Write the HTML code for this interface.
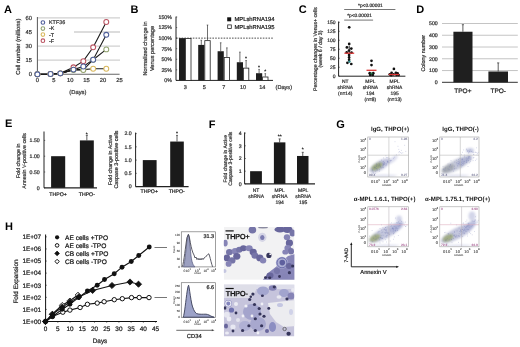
<!DOCTYPE html>
<html><head><meta charset="utf-8"><style>
html,body{margin:0;padding:0;background:#fff;width:520px;height:347px;overflow:hidden}
svg{display:block;will-change:transform;text-rendering:geometricPrecision;font-family:"Liberation Sans",sans-serif}
</style></head><body>
<svg width="520" height="347" viewBox="0 0 520 347">
<defs><filter id="bl" x="-20%" y="-20%" width="140%" height="140%"><feGaussianBlur stdDeviation="1.2"/></filter><filter id="bm" x="-10%" y="-10%" width="120%" height="120%"><feGaussianBlur stdDeviation="0.6"/></filter></defs>
<rect width="520" height="347" fill="#fff"/>
<text x="4.00" y="13.04" font-size="11" font-weight="bold" fill="#000">A</text>
<line x1="38.00" y1="17.90" x2="120.00" y2="17.90" stroke="#d0d0d0" stroke-width="1.3"/>
<line x1="38.00" y1="46.10" x2="120.00" y2="46.10" stroke="#d0d0d0" stroke-width="1.3"/>
<line x1="38.00" y1="60.20" x2="120.00" y2="60.20" stroke="#d0d0d0" stroke-width="1.3"/>
<line x1="74.00" y1="32.00" x2="120.00" y2="32.00" stroke="#d0d0d0" stroke-width="1.3"/>
<line x1="37.40" y1="17.00" x2="37.40" y2="74.30" stroke="#444" stroke-width="0.9"/>
<line x1="37.40" y1="74.30" x2="119.60" y2="74.30" stroke="#666" stroke-width="1.1"/>
<text x="32.00" y="19.98" font-size="5.8" text-anchor="end" fill="#333" stroke="#333" stroke-width="0.22" stroke-linejoin="round">60</text>
<text x="32.00" y="34.08" font-size="5.8" text-anchor="end" fill="#333" stroke="#333" stroke-width="0.22" stroke-linejoin="round">45</text>
<text x="32.00" y="48.18" font-size="5.8" text-anchor="end" fill="#333" stroke="#333" stroke-width="0.22" stroke-linejoin="round">30</text>
<text x="32.00" y="62.28" font-size="5.8" text-anchor="end" fill="#333" stroke="#333" stroke-width="0.22" stroke-linejoin="round">15</text>
<text x="32.00" y="76.38" font-size="5.8" text-anchor="end" fill="#333" stroke="#333" stroke-width="0.22" stroke-linejoin="round">0</text>
<text x="37.40" y="82.48" font-size="5.8" text-anchor="middle" fill="#333" stroke="#333" stroke-width="0.22" stroke-linejoin="round">0</text>
<text x="53.80" y="82.48" font-size="5.8" text-anchor="middle" fill="#333" stroke="#333" stroke-width="0.22" stroke-linejoin="round">5</text>
<text x="70.20" y="82.48" font-size="5.8" text-anchor="middle" fill="#333" stroke="#333" stroke-width="0.22" stroke-linejoin="round">10</text>
<text x="86.60" y="82.48" font-size="5.8" text-anchor="middle" fill="#333" stroke="#333" stroke-width="0.22" stroke-linejoin="round">15</text>
<text x="103.00" y="82.48" font-size="5.8" text-anchor="middle" fill="#333" stroke="#333" stroke-width="0.22" stroke-linejoin="round">20</text>
<text x="119.40" y="82.48" font-size="5.8" text-anchor="middle" fill="#333" stroke="#333" stroke-width="0.22" stroke-linejoin="round">25</text>
<text x="77.90" y="93.68" font-size="5.8" text-anchor="middle" fill="#333" stroke="#333" stroke-width="0.22" stroke-linejoin="round">(Days)</text>
<text x="17.90" y="48.78" font-size="5.8" text-anchor="middle" fill="#333" stroke="#333" stroke-width="0.22" stroke-linejoin="round" transform="rotate(-90 17.90 46.70)">Cell number (millions)</text>
<path d="M37.40,74.30 L50.52,74.02 L60.36,73.36 L73.48,67.34 L83.32,61.14 L93.16,47.32 L106.28,22.04" fill="none" stroke="#1a1a1a" stroke-width="1.1"/>
<path d="M37.40,74.30 L50.52,74.02 L60.36,73.36 L73.48,69.60 L83.32,69.60 L93.16,68.75 L106.28,68.75" fill="none" stroke="#1a1a1a" stroke-width="1.1"/>
<path d="M37.40,74.30 L50.52,74.02 L60.36,73.36 L73.48,70.07 L83.32,70.07 L93.16,59.73 L106.28,49.39" fill="none" stroke="#1a1a1a" stroke-width="1.1"/>
<path d="M37.40,74.30 L50.52,74.02 L60.36,73.36 L73.48,69.60 L83.32,66.50 L93.16,59.73 L106.28,34.82" fill="none" stroke="#1a1a1a" stroke-width="1.1"/>
<circle cx="37.40" cy="74.30" r="2.45" fill="#fff" stroke="#bb5563" stroke-width="1.05"/>
<circle cx="50.52" cy="74.02" r="2.45" fill="#fff" stroke="#bb5563" stroke-width="1.05"/>
<circle cx="60.36" cy="73.36" r="2.45" fill="#fff" stroke="#bb5563" stroke-width="1.05"/>
<circle cx="73.48" cy="67.34" r="2.45" fill="#fff" stroke="#bb5563" stroke-width="1.05"/>
<circle cx="83.32" cy="61.14" r="2.45" fill="#fff" stroke="#bb5563" stroke-width="1.05"/>
<circle cx="93.16" cy="47.32" r="2.45" fill="#fff" stroke="#bb5563" stroke-width="1.05"/>
<circle cx="106.28" cy="22.04" r="2.45" fill="#fff" stroke="#bb5563" stroke-width="1.05"/>
<circle cx="37.40" cy="74.30" r="2.45" fill="#fff" stroke="#d9b85e" stroke-width="1.05"/>
<circle cx="50.52" cy="74.02" r="2.45" fill="#fff" stroke="#d9b85e" stroke-width="1.05"/>
<circle cx="60.36" cy="73.36" r="2.45" fill="#fff" stroke="#d9b85e" stroke-width="1.05"/>
<circle cx="73.48" cy="69.60" r="2.45" fill="#fff" stroke="#d9b85e" stroke-width="1.05"/>
<circle cx="83.32" cy="69.60" r="2.45" fill="#fff" stroke="#d9b85e" stroke-width="1.05"/>
<circle cx="93.16" cy="68.75" r="2.45" fill="#fff" stroke="#d9b85e" stroke-width="1.05"/>
<circle cx="106.28" cy="68.75" r="2.45" fill="#fff" stroke="#d9b85e" stroke-width="1.05"/>
<circle cx="37.40" cy="74.30" r="2.45" fill="#fff" stroke="#93a472" stroke-width="1.05"/>
<circle cx="50.52" cy="74.02" r="2.45" fill="#fff" stroke="#93a472" stroke-width="1.05"/>
<circle cx="60.36" cy="73.36" r="2.45" fill="#fff" stroke="#93a472" stroke-width="1.05"/>
<circle cx="73.48" cy="70.07" r="2.45" fill="#fff" stroke="#93a472" stroke-width="1.05"/>
<circle cx="83.32" cy="70.07" r="2.45" fill="#fff" stroke="#93a472" stroke-width="1.05"/>
<circle cx="93.16" cy="59.73" r="2.45" fill="#fff" stroke="#93a472" stroke-width="1.05"/>
<circle cx="106.28" cy="49.39" r="2.45" fill="#fff" stroke="#93a472" stroke-width="1.05"/>
<circle cx="37.40" cy="74.30" r="2.45" fill="#fff" stroke="#4f5f9a" stroke-width="1.05"/>
<circle cx="50.52" cy="74.02" r="2.45" fill="#fff" stroke="#4f5f9a" stroke-width="1.05"/>
<circle cx="60.36" cy="73.36" r="2.45" fill="#fff" stroke="#4f5f9a" stroke-width="1.05"/>
<circle cx="73.48" cy="69.60" r="2.45" fill="#fff" stroke="#4f5f9a" stroke-width="1.05"/>
<circle cx="83.32" cy="66.50" r="2.45" fill="#fff" stroke="#4f5f9a" stroke-width="1.05"/>
<circle cx="93.16" cy="59.73" r="2.45" fill="#fff" stroke="#4f5f9a" stroke-width="1.05"/>
<circle cx="106.28" cy="34.82" r="2.45" fill="#fff" stroke="#4f5f9a" stroke-width="1.05"/>
<circle cx="42.90" cy="22.50" r="1.80" fill="#fff" stroke="#4f5f9a" stroke-width="1.1"/>
<text x="49.00" y="24.43" font-size="5.4" fill="#333" stroke="#333" stroke-width="0.22" stroke-linejoin="round">KTF36</text>
<circle cx="42.90" cy="28.55" r="1.80" fill="#fff" stroke="#93a472" stroke-width="1.1"/>
<text x="49.00" y="30.48" font-size="5.4" fill="#333" stroke="#333" stroke-width="0.22" stroke-linejoin="round">-K</text>
<circle cx="42.90" cy="34.60" r="1.80" fill="#fff" stroke="#d9b85e" stroke-width="1.1"/>
<text x="49.00" y="36.53" font-size="5.4" fill="#333" stroke="#333" stroke-width="0.22" stroke-linejoin="round">-T</text>
<circle cx="42.90" cy="40.65" r="1.80" fill="#fff" stroke="#bb5563" stroke-width="1.1"/>
<text x="49.00" y="42.58" font-size="5.4" fill="#333" stroke="#333" stroke-width="0.22" stroke-linejoin="round">-F</text>
<text x="130.50" y="13.04" font-size="11" font-weight="bold" fill="#000">B</text>
<line x1="176.00" y1="16.60" x2="176.00" y2="80.40" stroke="#222" stroke-width="1"/>
<line x1="176.00" y1="80.40" x2="273.00" y2="80.40" stroke="#222" stroke-width="1"/>
<text x="172.00" y="18.90" font-size="5.3" text-anchor="end" fill="#333" stroke="#333" stroke-width="0.22" stroke-linejoin="round">150%</text>
<line x1="176.00" y1="17.00" x2="177.20" y2="17.00" stroke="#222" stroke-width="0.6"/>
<text x="172.00" y="29.46" font-size="5.3" text-anchor="end" fill="#333" stroke="#333" stroke-width="0.22" stroke-linejoin="round">125%</text>
<line x1="176.00" y1="27.57" x2="177.20" y2="27.57" stroke="#222" stroke-width="0.6"/>
<text x="172.00" y="40.03" font-size="5.3" text-anchor="end" fill="#333" stroke="#333" stroke-width="0.22" stroke-linejoin="round">100%</text>
<line x1="176.00" y1="38.13" x2="177.20" y2="38.13" stroke="#222" stroke-width="0.6"/>
<text x="172.00" y="50.60" font-size="5.3" text-anchor="end" fill="#333" stroke="#333" stroke-width="0.22" stroke-linejoin="round">75%</text>
<line x1="176.00" y1="48.70" x2="177.20" y2="48.70" stroke="#222" stroke-width="0.6"/>
<text x="172.00" y="61.16" font-size="5.3" text-anchor="end" fill="#333" stroke="#333" stroke-width="0.22" stroke-linejoin="round">50%</text>
<line x1="176.00" y1="59.27" x2="177.20" y2="59.27" stroke="#222" stroke-width="0.6"/>
<text x="172.00" y="71.73" font-size="5.3" text-anchor="end" fill="#333" stroke="#333" stroke-width="0.22" stroke-linejoin="round">25%</text>
<line x1="176.00" y1="69.83" x2="177.20" y2="69.83" stroke="#222" stroke-width="0.6"/>
<text x="172.00" y="82.30" font-size="5.3" text-anchor="end" fill="#333" stroke="#333" stroke-width="0.22" stroke-linejoin="round">0%</text>
<line x1="176.00" y1="80.40" x2="177.20" y2="80.40" stroke="#222" stroke-width="0.6"/>
<line x1="176.00" y1="38.13" x2="273.00" y2="38.13" stroke="#222" stroke-width="0.8" stroke-dasharray="1.6,1.2"/>
<rect x="179.00" y="38.13" width="6.20" height="42.27" fill="#1e1e1e" stroke="none" stroke-width="1"/>
<rect x="185.60" y="38.53" width="5.40" height="41.87" fill="#fff" stroke="#222" stroke-width="0.8"/>
<text x="185.20" y="88.67" font-size="5.5" text-anchor="middle" fill="#333" stroke="#333" stroke-width="0.22" stroke-linejoin="round">3</text>
<line x1="201.30" y1="44.90" x2="201.30" y2="40.25" stroke="#333" stroke-width="0.7"/>
<line x1="200.50" y1="40.25" x2="202.10" y2="40.25" stroke="#333" stroke-width="0.6"/>
<line x1="207.50" y1="40.25" x2="207.50" y2="25.03" stroke="#333" stroke-width="0.7"/>
<line x1="206.70" y1="25.03" x2="208.30" y2="25.03" stroke="#333" stroke-width="0.6"/>
<rect x="198.20" y="44.90" width="6.20" height="35.50" fill="#1e1e1e" stroke="none" stroke-width="1"/>
<rect x="204.80" y="40.65" width="5.40" height="39.75" fill="#fff" stroke="#222" stroke-width="0.8"/>
<text x="204.40" y="88.67" font-size="5.5" text-anchor="middle" fill="#333" stroke="#333" stroke-width="0.22" stroke-linejoin="round">5</text>
<line x1="220.70" y1="51.24" x2="220.70" y2="42.78" stroke="#333" stroke-width="0.7"/>
<line x1="219.90" y1="42.78" x2="221.50" y2="42.78" stroke="#333" stroke-width="0.6"/>
<line x1="226.90" y1="57.15" x2="226.90" y2="47.85" stroke="#333" stroke-width="0.7"/>
<line x1="226.10" y1="47.85" x2="227.70" y2="47.85" stroke="#333" stroke-width="0.6"/>
<rect x="217.60" y="51.24" width="6.20" height="29.16" fill="#1e1e1e" stroke="none" stroke-width="1"/>
<rect x="224.20" y="57.55" width="5.40" height="22.85" fill="#fff" stroke="#222" stroke-width="0.8"/>
<text x="223.80" y="88.67" font-size="5.5" text-anchor="middle" fill="#333" stroke="#333" stroke-width="0.22" stroke-linejoin="round">7</text>
<line x1="239.90" y1="62.23" x2="239.90" y2="52.08" stroke="#333" stroke-width="0.7"/>
<line x1="239.10" y1="52.08" x2="240.70" y2="52.08" stroke="#333" stroke-width="0.6"/>
<line x1="246.10" y1="67.72" x2="246.10" y2="60.53" stroke="#333" stroke-width="0.7"/>
<line x1="245.30" y1="60.53" x2="246.90" y2="60.53" stroke="#333" stroke-width="0.6"/>
<rect x="236.80" y="62.23" width="6.20" height="18.17" fill="#1e1e1e" stroke="none" stroke-width="1"/>
<rect x="243.40" y="68.12" width="5.40" height="12.28" fill="#fff" stroke="#222" stroke-width="0.8"/>
<text x="243.00" y="88.67" font-size="5.5" text-anchor="middle" fill="#333" stroke="#333" stroke-width="0.22" stroke-linejoin="round">10</text>
<line x1="259.10" y1="73.21" x2="259.10" y2="69.41" stroke="#333" stroke-width="0.7"/>
<line x1="258.30" y1="69.41" x2="259.90" y2="69.41" stroke="#333" stroke-width="0.6"/>
<line x1="265.30" y1="76.60" x2="265.30" y2="73.64" stroke="#333" stroke-width="0.7"/>
<line x1="264.50" y1="73.64" x2="266.10" y2="73.64" stroke="#333" stroke-width="0.6"/>
<rect x="256.00" y="73.21" width="6.20" height="7.19" fill="#1e1e1e" stroke="none" stroke-width="1"/>
<rect x="262.60" y="77.00" width="5.40" height="3.40" fill="#fff" stroke="#222" stroke-width="0.8"/>
<text x="262.20" y="88.67" font-size="5.5" text-anchor="middle" fill="#333" stroke="#333" stroke-width="0.22" stroke-linejoin="round">14</text>
<text x="246.10" y="60.12" font-size="5" text-anchor="middle" fill="#222" stroke="#222" stroke-width="0.22" stroke-linejoin="round">*</text>
<text x="259.10" y="69.00" font-size="5" text-anchor="middle" fill="#222" stroke="#222" stroke-width="0.22" stroke-linejoin="round">*</text>
<text x="265.30" y="73.23" font-size="5" text-anchor="middle" fill="#222" stroke="#222" stroke-width="0.22" stroke-linejoin="round">*</text>
<text x="283.80" y="88.70" font-size="5.6" text-anchor="middle" fill="#333" stroke="#333" stroke-width="0.22" stroke-linejoin="round">(Days)</text>
<text x="144.80" y="50.50" font-size="5.6" text-anchor="middle" fill="#333" stroke="#333" stroke-width="0.22" stroke-linejoin="round" transform="rotate(-90 144.80 48.50)">Normalized change in</text>
<text x="151.60" y="50.50" font-size="5.6" text-anchor="middle" fill="#333" stroke="#333" stroke-width="0.22" stroke-linejoin="round" transform="rotate(-90 151.60 48.50)">Venus percentage</text>
<rect x="227.20" y="17.30" width="4.00" height="4.00" fill="#111" stroke="none" stroke-width="1"/>
<text x="234.50" y="21.48" font-size="5.8" fill="#222" stroke="#222" stroke-width="0.22" stroke-linejoin="round">MPLshRNA194</text>
<rect x="227.70" y="24.90" width="3.60" height="3.60" fill="#fff" stroke="#222" stroke-width="0.8"/>
<text x="234.50" y="28.78" font-size="5.8" fill="#222" stroke="#222" stroke-width="0.22" stroke-linejoin="round">MPLshRNA195</text>
<text x="298.80" y="13.04" font-size="11" font-weight="bold" fill="#000">C</text>
<line x1="338.60" y1="21.50" x2="338.60" y2="76.20" stroke="#222" stroke-width="1"/>
<line x1="338.60" y1="76.20" x2="405.40" y2="76.20" stroke="#222" stroke-width="1"/>
<text x="335.60" y="24.09" font-size="5.0" text-anchor="end" fill="#333" stroke="#333" stroke-width="0.22" stroke-linejoin="round">150</text>
<line x1="338.60" y1="22.30" x2="339.80" y2="22.30" stroke="#222" stroke-width="0.6"/>
<text x="335.60" y="33.08" font-size="5.0" text-anchor="end" fill="#333" stroke="#333" stroke-width="0.22" stroke-linejoin="round">125</text>
<line x1="338.60" y1="31.29" x2="339.80" y2="31.29" stroke="#222" stroke-width="0.6"/>
<text x="335.60" y="42.06" font-size="5.0" text-anchor="end" fill="#333" stroke="#333" stroke-width="0.22" stroke-linejoin="round">100</text>
<line x1="338.60" y1="40.27" x2="339.80" y2="40.27" stroke="#222" stroke-width="0.6"/>
<text x="335.60" y="51.04" font-size="5.0" text-anchor="end" fill="#333" stroke="#333" stroke-width="0.22" stroke-linejoin="round">75</text>
<line x1="338.60" y1="49.25" x2="339.80" y2="49.25" stroke="#222" stroke-width="0.6"/>
<text x="335.60" y="60.02" font-size="5.0" text-anchor="end" fill="#333" stroke="#333" stroke-width="0.22" stroke-linejoin="round">50</text>
<line x1="338.60" y1="58.23" x2="339.80" y2="58.23" stroke="#222" stroke-width="0.6"/>
<text x="335.60" y="69.01" font-size="5.0" text-anchor="end" fill="#333" stroke="#333" stroke-width="0.22" stroke-linejoin="round">25</text>
<line x1="338.60" y1="67.22" x2="339.80" y2="67.22" stroke="#222" stroke-width="0.6"/>
<text x="335.60" y="77.99" font-size="5.0" text-anchor="end" fill="#333" stroke="#333" stroke-width="0.22" stroke-linejoin="round">0</text>
<line x1="338.60" y1="76.20" x2="339.80" y2="76.20" stroke="#222" stroke-width="0.6"/>
<line x1="344.20" y1="9.50" x2="395.40" y2="9.50" stroke="#666" stroke-width="0.9"/>
<text x="370.40" y="7.12" font-size="4.8" text-anchor="middle" fill="#333" stroke="#333" stroke-width="0.22" stroke-linejoin="round">*p&lt;0.00001</text>
<line x1="344.20" y1="20.10" x2="373.10" y2="20.10" stroke="#666" stroke-width="0.9"/>
<text x="359.60" y="17.42" font-size="4.8" text-anchor="middle" fill="#333" stroke="#333" stroke-width="0.22" stroke-linejoin="round">*p&lt;0.00001</text>
<line x1="349.20" y1="45.66" x2="349.20" y2="62.55" stroke="#111" stroke-width="0.9"/>
<circle cx="349.20" cy="27.30" r="1.35" fill="#111" stroke="none" stroke-width="1"/>
<circle cx="349.20" cy="43.90" r="1.35" fill="#111" stroke="none" stroke-width="1"/>
<circle cx="346.90" cy="47.40" r="1.35" fill="#111" stroke="none" stroke-width="1"/>
<circle cx="351.30" cy="48.60" r="1.35" fill="#111" stroke="none" stroke-width="1"/>
<circle cx="349.00" cy="50.60" r="1.35" fill="#111" stroke="none" stroke-width="1"/>
<circle cx="346.70" cy="52.40" r="1.35" fill="#111" stroke="none" stroke-width="1"/>
<circle cx="351.50" cy="52.60" r="1.35" fill="#111" stroke="none" stroke-width="1"/>
<circle cx="349.10" cy="55.00" r="1.35" fill="#111" stroke="none" stroke-width="1"/>
<circle cx="349.10" cy="57.40" r="1.35" fill="#111" stroke="none" stroke-width="1"/>
<circle cx="349.10" cy="59.80" r="1.35" fill="#111" stroke="none" stroke-width="1"/>
<circle cx="347.40" cy="62.80" r="1.35" fill="#111" stroke="none" stroke-width="1"/>
<circle cx="351.30" cy="64.00" r="1.35" fill="#111" stroke="none" stroke-width="1"/>
<circle cx="349.50" cy="61.60" r="1.20" fill="#2a8a8a" stroke="none" stroke-width="1"/>
<line x1="344.40" y1="53.20" x2="354.20" y2="53.20" stroke="#dd3535" stroke-width="1.3"/>
<circle cx="371.50" cy="60.80" r="1.35" fill="#111" stroke="none" stroke-width="1"/>
<circle cx="371.50" cy="65.10" r="1.35" fill="#111" stroke="none" stroke-width="1"/>
<circle cx="369.70" cy="73.20" r="1.35" fill="#111" stroke="none" stroke-width="1"/>
<circle cx="373.30" cy="73.20" r="1.35" fill="#111" stroke="none" stroke-width="1"/>
<circle cx="371.50" cy="74.20" r="1.35" fill="#111" stroke="none" stroke-width="1"/>
<circle cx="370.20" cy="75.00" r="1.35" fill="#111" stroke="none" stroke-width="1"/>
<circle cx="372.80" cy="75.00" r="1.35" fill="#111" stroke="none" stroke-width="1"/>
<circle cx="371.50" cy="73.60" r="1.10" fill="#2a7a4a" stroke="none" stroke-width="1"/>
<line x1="366.50" y1="70.30" x2="376.50" y2="70.30" stroke="#dd3535" stroke-width="1.3"/>
<circle cx="393.90" cy="68.90" r="1.35" fill="#111" stroke="none" stroke-width="1"/>
<circle cx="391.60" cy="72.80" r="1.35" fill="#111" stroke="none" stroke-width="1"/>
<circle cx="395.90" cy="72.80" r="1.35" fill="#111" stroke="none" stroke-width="1"/>
<circle cx="397.60" cy="73.30" r="1.35" fill="#111" stroke="none" stroke-width="1"/>
<circle cx="389.80" cy="74.30" r="1.35" fill="#111" stroke="none" stroke-width="1"/>
<circle cx="393.60" cy="74.30" r="1.35" fill="#111" stroke="none" stroke-width="1"/>
<circle cx="396.60" cy="75.00" r="1.35" fill="#111" stroke="none" stroke-width="1"/>
<circle cx="391.20" cy="75.20" r="1.35" fill="#111" stroke="none" stroke-width="1"/>
<circle cx="398.60" cy="75.00" r="1.35" fill="#111" stroke="none" stroke-width="1"/>
<line x1="388.70" y1="74.50" x2="399.20" y2="74.50" stroke="#dd3535" stroke-width="1.3"/>
<text x="345.20" y="82.95" font-size="4.9" text-anchor="middle" fill="#333" stroke="#333" stroke-width="0.22" stroke-linejoin="round">NT</text>
<text x="345.20" y="89.05" font-size="4.9" text-anchor="middle" fill="#333" stroke="#333" stroke-width="0.22" stroke-linejoin="round">shRNA</text>
<text x="345.20" y="95.15" font-size="4.9" text-anchor="middle" fill="#333" stroke="#333" stroke-width="0.22" stroke-linejoin="round">(n=14)</text>
<text x="370.40" y="82.95" font-size="4.9" text-anchor="middle" fill="#333" stroke="#333" stroke-width="0.22" stroke-linejoin="round">MPL</text>
<text x="370.40" y="89.05" font-size="4.9" text-anchor="middle" fill="#333" stroke="#333" stroke-width="0.22" stroke-linejoin="round">shRNA</text>
<text x="370.40" y="95.15" font-size="4.9" text-anchor="middle" fill="#333" stroke="#333" stroke-width="0.22" stroke-linejoin="round">194</text>
<text x="370.40" y="101.25" font-size="4.9" text-anchor="middle" fill="#333" stroke="#333" stroke-width="0.22" stroke-linejoin="round">(n=8)</text>
<text x="394.60" y="82.95" font-size="4.9" text-anchor="middle" fill="#333" stroke="#333" stroke-width="0.22" stroke-linejoin="round">MPL</text>
<text x="394.60" y="89.05" font-size="4.9" text-anchor="middle" fill="#333" stroke="#333" stroke-width="0.22" stroke-linejoin="round">shRNA</text>
<text x="394.60" y="95.15" font-size="4.9" text-anchor="middle" fill="#333" stroke="#333" stroke-width="0.22" stroke-linejoin="round">195</text>
<text x="394.60" y="101.25" font-size="4.9" text-anchor="middle" fill="#333" stroke="#333" stroke-width="0.22" stroke-linejoin="round">(n=13)</text>
<text x="315.00" y="50.86" font-size="5.2" text-anchor="middle" fill="#333" stroke="#333" stroke-width="0.22" stroke-linejoin="round" transform="rotate(-90 315.00 49.00)">Percentage changes in Venus+ cells</text>
<text x="320.60" y="50.86" font-size="5.2" text-anchor="middle" fill="#333" stroke="#333" stroke-width="0.22" stroke-linejoin="round" transform="rotate(-90 320.60 49.00)">(week 6 / day 3)</text>
<text x="416.30" y="13.04" font-size="11" font-weight="bold" fill="#000">D</text>
<line x1="442.00" y1="23.50" x2="517.80" y2="23.50" stroke="#bdbdbd" stroke-width="0.9"/>
<line x1="442.00" y1="35.26" x2="517.80" y2="35.26" stroke="#bdbdbd" stroke-width="0.9"/>
<line x1="442.00" y1="47.02" x2="517.80" y2="47.02" stroke="#bdbdbd" stroke-width="0.9"/>
<line x1="442.00" y1="58.78" x2="517.80" y2="58.78" stroke="#bdbdbd" stroke-width="0.9"/>
<line x1="442.00" y1="70.54" x2="517.80" y2="70.54" stroke="#bdbdbd" stroke-width="0.9"/>
<line x1="442.00" y1="82.30" x2="517.80" y2="82.30" stroke="#333" stroke-width="1"/>
<text x="437.70" y="25.36" font-size="5.2" text-anchor="end" fill="#333" stroke="#333" stroke-width="0.22" stroke-linejoin="round">500</text>
<text x="437.70" y="37.12" font-size="5.2" text-anchor="end" fill="#333" stroke="#333" stroke-width="0.22" stroke-linejoin="round">400</text>
<text x="437.70" y="48.88" font-size="5.2" text-anchor="end" fill="#333" stroke="#333" stroke-width="0.22" stroke-linejoin="round">300</text>
<text x="437.70" y="60.64" font-size="5.2" text-anchor="end" fill="#333" stroke="#333" stroke-width="0.22" stroke-linejoin="round">200</text>
<text x="437.70" y="72.40" font-size="5.2" text-anchor="end" fill="#333" stroke="#333" stroke-width="0.22" stroke-linejoin="round">100</text>
<text x="437.70" y="84.16" font-size="5.2" text-anchor="end" fill="#333" stroke="#333" stroke-width="0.22" stroke-linejoin="round">0</text>
<line x1="462.90" y1="31.73" x2="462.90" y2="24.68" stroke="#333" stroke-width="0.8"/>
<line x1="461.80" y1="24.68" x2="464.00" y2="24.68" stroke="#333" stroke-width="0.7"/>
<rect x="453.40" y="31.73" width="19.10" height="50.57" fill="#1f1f1f" stroke="none" stroke-width="1"/>
<line x1="498.20" y1="71.48" x2="498.20" y2="62.90" stroke="#333" stroke-width="0.8"/>
<line x1="497.10" y1="62.90" x2="499.30" y2="62.90" stroke="#333" stroke-width="0.7"/>
<rect x="488.40" y="71.48" width="19.60" height="10.82" fill="#1f1f1f" stroke="none" stroke-width="1"/>
<text x="462.90" y="92.53" font-size="6.5" text-anchor="middle" fill="#222" stroke="#222" stroke-width="0.22" stroke-linejoin="round">TPO+</text>
<text x="498.20" y="92.53" font-size="6.5" text-anchor="middle" fill="#222" stroke="#222" stroke-width="0.22" stroke-linejoin="round">TPO-</text>
<text x="422.60" y="55.23" font-size="5.4" text-anchor="middle" fill="#333" stroke="#333" stroke-width="0.22" stroke-linejoin="round" transform="rotate(-90 422.60 53.30)">Colony number</text>
<text x="5.00" y="127.24" font-size="11" font-weight="bold" fill="#000">E</text>
<line x1="44.00" y1="131.50" x2="44.00" y2="187.80" stroke="#222" stroke-width="1"/>
<line x1="44.00" y1="187.80" x2="97.00" y2="187.80" stroke="#222" stroke-width="1.3"/>
<text x="39.70" y="142.26" font-size="5.2" text-anchor="end" fill="#333" stroke="#333" stroke-width="0.22" stroke-linejoin="round">1.50</text>
<line x1="44.00" y1="140.40" x2="45.20" y2="140.40" stroke="#222" stroke-width="0.6"/>
<text x="39.70" y="158.06" font-size="5.2" text-anchor="end" fill="#333" stroke="#333" stroke-width="0.22" stroke-linejoin="round">1.00</text>
<line x1="44.00" y1="156.20" x2="45.20" y2="156.20" stroke="#222" stroke-width="0.6"/>
<text x="39.70" y="173.86" font-size="5.2" text-anchor="end" fill="#333" stroke="#333" stroke-width="0.22" stroke-linejoin="round">0.50</text>
<line x1="44.00" y1="172.00" x2="45.20" y2="172.00" stroke="#222" stroke-width="0.6"/>
<text x="39.70" y="189.66" font-size="5.2" text-anchor="end" fill="#333" stroke="#333" stroke-width="0.22" stroke-linejoin="round">0</text>
<line x1="44.00" y1="187.80" x2="45.20" y2="187.80" stroke="#222" stroke-width="0.6"/>
<rect x="51.10" y="156.20" width="14.10" height="31.60" fill="#1a1a1a" stroke="none" stroke-width="1"/>
<line x1="86.85" y1="140.40" x2="86.85" y2="135.40" stroke="#333" stroke-width="0.8"/>
<line x1="85.80" y1="135.40" x2="87.90" y2="135.40" stroke="#333" stroke-width="0.7"/>
<rect x="79.90" y="140.40" width="13.90" height="47.40" fill="#1a1a1a" stroke="none" stroke-width="1"/>
<text x="86.85" y="135.99" font-size="5" text-anchor="middle" fill="#222" stroke="#222" stroke-width="0.22" stroke-linejoin="round">*</text>
<text x="58.10" y="196.16" font-size="5.2" text-anchor="middle" fill="#222" stroke="#222" stroke-width="0.22" stroke-linejoin="round">THPO+</text>
<text x="86.80" y="196.16" font-size="5.2" text-anchor="middle" fill="#222" stroke="#222" stroke-width="0.22" stroke-linejoin="round">THPO-</text>
<text x="18.30" y="162.70" font-size="5.3" text-anchor="middle" fill="#333" stroke="#333" stroke-width="0.22" stroke-linejoin="round" transform="rotate(-90 18.30 160.80)">Fold change in</text>
<text x="24.00" y="162.70" font-size="5.3" text-anchor="middle" fill="#333" stroke="#333" stroke-width="0.22" stroke-linejoin="round" transform="rotate(-90 24.00 160.80)">Annexin V-positive cells</text>
<line x1="135.60" y1="132.60" x2="135.60" y2="186.60" stroke="#222" stroke-width="1"/>
<line x1="135.60" y1="186.60" x2="188.60" y2="186.60" stroke="#222" stroke-width="1.3"/>
<text x="131.70" y="135.46" font-size="5.2" text-anchor="end" fill="#333" stroke="#333" stroke-width="0.22" stroke-linejoin="round">2.0</text>
<line x1="135.60" y1="133.60" x2="136.80" y2="133.60" stroke="#222" stroke-width="0.6"/>
<text x="131.70" y="148.71" font-size="5.2" text-anchor="end" fill="#333" stroke="#333" stroke-width="0.22" stroke-linejoin="round">1.5</text>
<line x1="135.60" y1="146.85" x2="136.80" y2="146.85" stroke="#222" stroke-width="0.6"/>
<text x="131.70" y="161.96" font-size="5.2" text-anchor="end" fill="#333" stroke="#333" stroke-width="0.22" stroke-linejoin="round">1.0</text>
<line x1="135.60" y1="160.10" x2="136.80" y2="160.10" stroke="#222" stroke-width="0.6"/>
<text x="131.70" y="175.21" font-size="5.2" text-anchor="end" fill="#333" stroke="#333" stroke-width="0.22" stroke-linejoin="round">0.5</text>
<line x1="135.60" y1="173.35" x2="136.80" y2="173.35" stroke="#222" stroke-width="0.6"/>
<text x="131.70" y="188.46" font-size="5.2" text-anchor="end" fill="#333" stroke="#333" stroke-width="0.22" stroke-linejoin="round">0</text>
<line x1="135.60" y1="186.60" x2="136.80" y2="186.60" stroke="#222" stroke-width="0.6"/>
<rect x="142.80" y="160.10" width="13.80" height="26.50" fill="#1a1a1a" stroke="none" stroke-width="1"/>
<line x1="177.00" y1="141.55" x2="177.00" y2="135.40" stroke="#333" stroke-width="0.8"/>
<line x1="176.00" y1="135.40" x2="178.00" y2="135.40" stroke="#333" stroke-width="0.7"/>
<rect x="170.20" y="141.55" width="13.60" height="45.05" fill="#1a1a1a" stroke="none" stroke-width="1"/>
<text x="177.00" y="134.99" font-size="5" text-anchor="middle" fill="#222" stroke="#222" stroke-width="0.22" stroke-linejoin="round">*</text>
<text x="149.20" y="193.36" font-size="5.2" text-anchor="middle" fill="#222" stroke="#222" stroke-width="0.22" stroke-linejoin="round">THPO+</text>
<text x="176.70" y="193.36" font-size="5.2" text-anchor="middle" fill="#222" stroke="#222" stroke-width="0.22" stroke-linejoin="round">THPO-</text>
<text x="110.60" y="161.90" font-size="5.3" text-anchor="middle" fill="#333" stroke="#333" stroke-width="0.22" stroke-linejoin="round" transform="rotate(-90 110.60 160.00)">Fold change in Active</text>
<text x="116.20" y="161.43" font-size="5.4" text-anchor="middle" fill="#333" stroke="#333" stroke-width="0.22" stroke-linejoin="round" transform="rotate(-90 116.20 159.50)">Caspase 3-positive cells</text>
<text x="208.80" y="128.24" font-size="11" font-weight="bold" fill="#000">F</text>
<line x1="244.60" y1="132.40" x2="244.60" y2="183.90" stroke="#222" stroke-width="1"/>
<line x1="244.60" y1="183.90" x2="315.00" y2="183.90" stroke="#222" stroke-width="1.3"/>
<text x="241.60" y="134.96" font-size="5.2" text-anchor="end" fill="#333" stroke="#333" stroke-width="0.22" stroke-linejoin="round">4</text>
<line x1="244.60" y1="133.10" x2="245.80" y2="133.10" stroke="#222" stroke-width="0.6"/>
<text x="241.60" y="147.66" font-size="5.2" text-anchor="end" fill="#333" stroke="#333" stroke-width="0.22" stroke-linejoin="round">3</text>
<line x1="244.60" y1="145.80" x2="245.80" y2="145.80" stroke="#222" stroke-width="0.6"/>
<text x="241.60" y="160.36" font-size="5.2" text-anchor="end" fill="#333" stroke="#333" stroke-width="0.22" stroke-linejoin="round">2</text>
<line x1="244.60" y1="158.50" x2="245.80" y2="158.50" stroke="#222" stroke-width="0.6"/>
<text x="241.60" y="173.06" font-size="5.2" text-anchor="end" fill="#333" stroke="#333" stroke-width="0.22" stroke-linejoin="round">1</text>
<line x1="244.60" y1="171.20" x2="245.80" y2="171.20" stroke="#222" stroke-width="0.6"/>
<text x="241.60" y="185.76" font-size="5.2" text-anchor="end" fill="#333" stroke="#333" stroke-width="0.22" stroke-linejoin="round">0</text>
<line x1="244.60" y1="183.90" x2="245.80" y2="183.90" stroke="#222" stroke-width="0.6"/>
<rect x="250.10" y="171.20" width="11.80" height="12.70" fill="#1a1a1a" stroke="none" stroke-width="1"/>
<line x1="279.65" y1="142.37" x2="279.65" y2="138.90" stroke="#333" stroke-width="0.8"/>
<line x1="278.60" y1="138.90" x2="280.70" y2="138.90" stroke="#333" stroke-width="0.7"/>
<rect x="273.90" y="142.37" width="11.50" height="41.53" fill="#1a1a1a" stroke="none" stroke-width="1"/>
<line x1="302.75" y1="155.96" x2="302.75" y2="152.30" stroke="#333" stroke-width="0.8"/>
<line x1="301.70" y1="152.30" x2="303.80" y2="152.30" stroke="#333" stroke-width="0.7"/>
<rect x="297.00" y="155.96" width="11.50" height="27.94" fill="#1a1a1a" stroke="none" stroke-width="1"/>
<text x="279.65" y="137.99" font-size="5" text-anchor="middle" fill="#222" stroke="#222" stroke-width="0.22" stroke-linejoin="round">**</text>
<text x="302.75" y="151.19" font-size="5" text-anchor="middle" fill="#222" stroke="#222" stroke-width="0.22" stroke-linejoin="round">*</text>
<text x="256.10" y="191.79" font-size="5.0" text-anchor="middle" fill="#333" stroke="#333" stroke-width="0.22" stroke-linejoin="round">NT</text>
<text x="256.10" y="197.99" font-size="5.0" text-anchor="middle" fill="#333" stroke="#333" stroke-width="0.22" stroke-linejoin="round">shRNA</text>
<text x="279.70" y="191.79" font-size="5.0" text-anchor="middle" fill="#333" stroke="#333" stroke-width="0.22" stroke-linejoin="round">MPL</text>
<text x="279.70" y="197.99" font-size="5.0" text-anchor="middle" fill="#333" stroke="#333" stroke-width="0.22" stroke-linejoin="round">shRNA</text>
<text x="279.70" y="204.19" font-size="5.0" text-anchor="middle" fill="#333" stroke="#333" stroke-width="0.22" stroke-linejoin="round">194</text>
<text x="303.20" y="191.79" font-size="5.0" text-anchor="middle" fill="#333" stroke="#333" stroke-width="0.22" stroke-linejoin="round">MPL</text>
<text x="303.20" y="197.99" font-size="5.0" text-anchor="middle" fill="#333" stroke="#333" stroke-width="0.22" stroke-linejoin="round">shRNA</text>
<text x="303.20" y="204.19" font-size="5.0" text-anchor="middle" fill="#333" stroke="#333" stroke-width="0.22" stroke-linejoin="round">195</text>
<text x="225.40" y="160.49" font-size="5.0" text-anchor="middle" fill="#333" stroke="#333" stroke-width="0.22" stroke-linejoin="round" transform="rotate(-90 225.40 158.70)">Fold change in Active</text>
<text x="230.60" y="160.49" font-size="5.0" text-anchor="middle" fill="#333" stroke="#333" stroke-width="0.22" stroke-linejoin="round" transform="rotate(-90 230.60 158.70)">Caspase 3-positive cells</text>
<text x="336.30" y="128.24" font-size="11" font-weight="bold" fill="#000">G</text>
<text x="390.00" y="130.68" font-size="6.1" text-anchor="middle" font-weight="bold" fill="#111">IgG, THPO(+)</text>
<g filter="url(#bl)" clip-path="url(#cp367137)">
<ellipse cx="380" cy="165.5" rx="12" ry="4.5" transform="rotate(-30 380 165.5)" fill="#b4b8d6" fill-opacity="0.8"/>
<ellipse cx="377" cy="166.5" rx="6.5" ry="3.2" transform="rotate(-30 377 166.5)" fill="#94a270" fill-opacity="0.85"/>
<ellipse cx="393" cy="159.5" rx="6" ry="2.2" transform="rotate(-40 393 159.5)" fill="#c4c8e2" fill-opacity="0.6"/>
<ellipse cx="384" cy="175.6" rx="14" ry="0.9" transform="rotate(0 384 175.6)" fill="#c0c4e0" fill-opacity="0.7"/>
</g>
<clipPath id="cp367137"><rect x="367.8" y="137.0" width="40.69999999999999" height="40.0"/></clipPath>
<path d="M380.2 167.1h0M379.2 165.1h0M375.2 168.0h0M388.2 161.8h0M387.5 161.7h0M383.6 163.9h0M372.3 173.1h0M384.7 164.2h0M375.1 167.3h0M382.7 163.8h0M383.2 161.7h0M383.4 164.7h0M379.4 171.2h0M386.0 165.6h0M376.3 165.7h0M378.8 166.0h0M385.1 163.2h0M377.0 164.5h0M379.6 169.6h0M376.5 168.5h0M381.5 160.1h0M383.1 167.7h0M379.2 163.6h0M383.9 163.0h0M373.4 172.3h0M386.3 164.6h0M390.1 160.5h0M379.9 161.7h0M383.8 161.4h0M376.6 163.9h0M374.5 167.4h0M385.9 155.7h0M372.7 170.9h0M390.4 160.9h0M382.1 162.1h0M375.7 171.3h0M387.8 161.3h0M383.1 165.0h0M391.3 160.5h0M384.8 164.3h0M373.5 173.6h0M387.4 162.6h0M383.5 157.9h0M381.3 167.9h0M375.4 173.4h0M384.1 162.6h0M383.8 165.2h0M383.3 167.1h0M376.5 166.5h0M387.2 161.2h0M377.1 170.4h0M389.1 158.6h0M372.6 169.8h0M379.7 164.9h0M387.9 157.5h0M386.7 157.5h0M377.2 169.3h0M388.9 162.7h0M383.2 164.0h0M382.7 165.7h0M380.3 166.3h0M384.4 162.9h0M386.3 163.4h0M393.4 158.3h0M377.9 165.8h0M382.2 167.1h0" stroke="#5a62a8" stroke-opacity="0.35" stroke-width="0.8" stroke-linecap="round"/>
<path d="M400.7 152.5h0M395.0 141.7h0M399.1 154.3h0M401.3 150.4h0M401.3 153.3h0M398.8 149.4h0M404.7 145.3h0M398.9 152.3h0M399.5 151.5h0M394.4 157.2h0M398.0 146.3h0M402.8 152.8h0M405.8 151.4h0M396.4 154.8h0" stroke="#8a90c4" stroke-opacity="0.5" stroke-width="0.8" stroke-linecap="round"/>
<line x1="388.90" y1="137.00" x2="388.90" y2="177.00" stroke="#b4b4b4" stroke-width="0.55"/>
<line x1="367.80" y1="155.20" x2="408.50" y2="155.20" stroke="#b4b4b4" stroke-width="0.55"/>
<rect x="367.80" y="137.00" width="40.70" height="40.00" fill="none" stroke="#a0a0a0" stroke-width="0.6"/>
<text x="369.00" y="140.35" font-size="3.2" fill="#707090" stroke="#707090" stroke-width="0.08" stroke-linejoin="round">0</text>
<text x="407.30" y="140.35" font-size="3.2" text-anchor="end" fill="#707090" stroke="#707090" stroke-width="0.08" stroke-linejoin="round">1.28</text>
<text x="369.00" y="176.15" font-size="3.2" fill="#707090" stroke="#707090" stroke-width="0.08" stroke-linejoin="round">89.4</text>
<text x="407.30" y="176.15" font-size="3.2" text-anchor="end" fill="#707090" stroke="#707090" stroke-width="0.08" stroke-linejoin="round">9.27</text>
<text x="360.04" y="141.67" font-size="4.1" fill="#333" stroke="#333" stroke-width="0.08" stroke-linejoin="round">10</text>
<text x="364.60" y="139.51" font-size="2.8699999999999997" fill="#333" stroke="#333" stroke-width="0.08" stroke-linejoin="round">4</text>
<text x="360.04" y="151.07" font-size="4.1" fill="#333" stroke="#333" stroke-width="0.08" stroke-linejoin="round">10</text>
<text x="364.60" y="148.91" font-size="2.8699999999999997" fill="#333" stroke="#333" stroke-width="0.08" stroke-linejoin="round">3</text>
<text x="360.04" y="160.27" font-size="4.1" fill="#333" stroke="#333" stroke-width="0.08" stroke-linejoin="round">10</text>
<text x="364.60" y="158.11" font-size="2.8699999999999997" fill="#333" stroke="#333" stroke-width="0.08" stroke-linejoin="round">2</text>
<text x="360.04" y="169.47" font-size="4.1" fill="#333" stroke="#333" stroke-width="0.08" stroke-linejoin="round">10</text>
<text x="364.60" y="167.31" font-size="2.8699999999999997" fill="#333" stroke="#333" stroke-width="0.08" stroke-linejoin="round">1</text>
<text x="366.00" y="174.47" font-size="4.1" text-anchor="end" fill="#333" stroke="#333" stroke-width="0.08" stroke-linejoin="round">0</text>
<text x="372.10" y="182.77" font-size="4.1" text-anchor="middle" fill="#333" stroke="#333" stroke-width="0.08" stroke-linejoin="round">0</text>
<text x="373.62" y="182.77" font-size="4.1" fill="#333" stroke="#333" stroke-width="0.08" stroke-linejoin="round">10</text>
<text x="378.18" y="180.61" font-size="2.8699999999999997" fill="#333" stroke="#333" stroke-width="0.08" stroke-linejoin="round">1</text>
<text x="383.52" y="182.77" font-size="4.1" fill="#333" stroke="#333" stroke-width="0.08" stroke-linejoin="round">10</text>
<text x="388.08" y="180.61" font-size="2.8699999999999997" fill="#333" stroke="#333" stroke-width="0.08" stroke-linejoin="round">2</text>
<text x="392.22" y="182.77" font-size="4.1" fill="#333" stroke="#333" stroke-width="0.08" stroke-linejoin="round">10</text>
<text x="396.78" y="180.61" font-size="2.8699999999999997" fill="#333" stroke="#333" stroke-width="0.08" stroke-linejoin="round">3</text>
<text x="401.52" y="182.77" font-size="4.1" fill="#333" stroke="#333" stroke-width="0.08" stroke-linejoin="round">10</text>
<text x="406.08" y="180.61" font-size="2.8699999999999997" fill="#333" stroke="#333" stroke-width="0.08" stroke-linejoin="round">4</text>
<text x="386.60" y="185.73" font-size="2.6" text-anchor="middle" fill="#555" stroke="#555" stroke-width="0.08" stroke-linejoin="round">Annexin</text>
<text x="359.20" y="159.93" font-size="2.6" text-anchor="middle" fill="#555" stroke="#555" stroke-width="0.08" stroke-linejoin="round" transform="rotate(-90 359.20 159.00)">7-AAD</text>
<text x="460.60" y="130.68" font-size="6.1" text-anchor="middle" font-weight="bold" fill="#111">IgG, THPO(-)</text>
<g filter="url(#bl)" clip-path="url(#cp439137)">
<ellipse cx="457" cy="164.5" rx="17" ry="5" transform="rotate(-28 457 164.5)" fill="#b8bcd0" fill-opacity="0.8"/>
<ellipse cx="448" cy="168.5" rx="7" ry="3.6" transform="rotate(-28 448 168.5)" fill="#9ea2aa" fill-opacity="0.8"/>
<ellipse cx="464" cy="161" rx="9" ry="3" transform="rotate(-28 464 161)" fill="#9aa0cc" fill-opacity="0.5"/>
<ellipse cx="470" cy="150.5" rx="4" ry="2.5" transform="rotate(0 470 150.5)" fill="#bcc0dc" fill-opacity="0.8"/>
<ellipse cx="456" cy="175.6" rx="14" ry="0.9" transform="rotate(0 456 175.6)" fill="#c0c4e0" fill-opacity="0.7"/>
</g>
<clipPath id="cp439137"><rect x="439.8" y="137.0" width="39.19999999999999" height="40.0"/></clipPath>
<path d="M457.6 165.9h0M466.8 149.8h0M468.5 153.0h0M464.5 155.0h0M463.4 164.8h0M458.8 163.8h0M467.9 158.8h0M461.3 167.0h0M469.8 156.3h0M468.5 157.1h0M462.3 163.7h0M463.1 163.0h0M443.0 166.4h0M464.6 156.8h0M448.0 163.9h0M473.4 157.9h0M473.0 152.4h0M458.4 159.5h0M469.7 162.8h0M453.6 171.2h0M469.3 156.9h0M458.2 161.4h0M464.5 161.5h0M473.1 152.1h0M473.1 160.6h0M473.9 154.5h0M454.2 169.0h0M461.3 162.2h0M473.5 154.4h0M443.1 174.2h0M462.2 159.2h0M461.1 164.8h0M462.6 165.6h0M460.9 165.6h0M476.8 159.1h0M454.7 168.3h0M442.4 175.5h0M448.0 168.8h0M458.1 163.4h0M454.6 166.2h0M477.5 153.4h0M466.6 162.4h0M456.3 160.2h0M456.1 168.2h0M443.2 169.4h0M470.9 159.4h0M461.2 164.6h0M460.0 158.5h0M443.9 168.9h0M468.2 156.2h0M450.2 165.1h0M445.0 170.1h0M449.1 169.6h0M451.0 160.7h0M466.7 158.0h0M462.2 159.8h0M468.6 160.5h0M466.9 159.9h0M473.9 157.4h0M461.4 154.6h0M470.6 161.3h0M456.5 162.8h0M476.4 147.8h0M468.0 166.5h0M452.0 169.1h0M478.2 152.4h0M466.7 162.0h0M451.1 166.9h0M464.0 163.2h0M459.4 162.2h0M449.6 166.8h0M468.8 158.2h0M450.5 164.7h0M462.5 152.3h0M466.7 160.6h0M477.0 154.9h0M460.1 164.2h0M442.6 175.3h0M462.2 159.0h0M475.4 160.4h0M445.4 168.0h0M463.1 161.5h0M454.8 162.0h0" stroke="#5a62a8" stroke-opacity="0.35" stroke-width="0.8" stroke-linecap="round"/>
<path d="M476.4 152.6h0M466.4 149.0h0M475.1 152.5h0M475.5 152.2h0M467.4 151.4h0M463.5 149.9h0M469.8 151.8h0M467.8 150.8h0M471.4 151.6h0M471.9 151.3h0M469.0 152.2h0M470.1 149.8h0M468.1 151.0h0M469.7 151.2h0M470.0 151.3h0" stroke="#5a62a8" stroke-opacity="0.3" stroke-width="0.8" stroke-linecap="round"/>
<line x1="460.30" y1="137.00" x2="460.30" y2="177.00" stroke="#b4b4b4" stroke-width="0.55"/>
<line x1="439.80" y1="155.20" x2="479.00" y2="155.20" stroke="#b4b4b4" stroke-width="0.55"/>
<rect x="439.80" y="137.00" width="39.20" height="40.00" fill="none" stroke="#a0a0a0" stroke-width="0.6"/>
<text x="441.00" y="140.35" font-size="3.2" fill="#707090" stroke="#707090" stroke-width="0.08" stroke-linejoin="round">0</text>
<text x="477.80" y="140.35" font-size="3.2" text-anchor="end" fill="#707090" stroke="#707090" stroke-width="0.08" stroke-linejoin="round">4.2</text>
<text x="441.00" y="176.15" font-size="3.2" fill="#707090" stroke="#707090" stroke-width="0.08" stroke-linejoin="round">71.4</text>
<text x="477.80" y="176.15" font-size="3.2" text-anchor="end" fill="#707090" stroke="#707090" stroke-width="0.08" stroke-linejoin="round">24.2</text>
<text x="432.04" y="141.67" font-size="4.1" fill="#333" stroke="#333" stroke-width="0.08" stroke-linejoin="round">10</text>
<text x="436.60" y="139.51" font-size="2.8699999999999997" fill="#333" stroke="#333" stroke-width="0.08" stroke-linejoin="round">4</text>
<text x="432.04" y="151.07" font-size="4.1" fill="#333" stroke="#333" stroke-width="0.08" stroke-linejoin="round">10</text>
<text x="436.60" y="148.91" font-size="2.8699999999999997" fill="#333" stroke="#333" stroke-width="0.08" stroke-linejoin="round">3</text>
<text x="432.04" y="160.27" font-size="4.1" fill="#333" stroke="#333" stroke-width="0.08" stroke-linejoin="round">10</text>
<text x="436.60" y="158.11" font-size="2.8699999999999997" fill="#333" stroke="#333" stroke-width="0.08" stroke-linejoin="round">2</text>
<text x="432.04" y="169.47" font-size="4.1" fill="#333" stroke="#333" stroke-width="0.08" stroke-linejoin="round">10</text>
<text x="436.60" y="167.31" font-size="2.8699999999999997" fill="#333" stroke="#333" stroke-width="0.08" stroke-linejoin="round">1</text>
<text x="438.00" y="174.47" font-size="4.1" text-anchor="end" fill="#333" stroke="#333" stroke-width="0.08" stroke-linejoin="round">0</text>
<text x="444.10" y="182.77" font-size="4.1" text-anchor="middle" fill="#333" stroke="#333" stroke-width="0.08" stroke-linejoin="round">0</text>
<text x="445.62" y="182.77" font-size="4.1" fill="#333" stroke="#333" stroke-width="0.08" stroke-linejoin="round">10</text>
<text x="450.18" y="180.61" font-size="2.8699999999999997" fill="#333" stroke="#333" stroke-width="0.08" stroke-linejoin="round">1</text>
<text x="455.52" y="182.77" font-size="4.1" fill="#333" stroke="#333" stroke-width="0.08" stroke-linejoin="round">10</text>
<text x="460.08" y="180.61" font-size="2.8699999999999997" fill="#333" stroke="#333" stroke-width="0.08" stroke-linejoin="round">2</text>
<text x="464.22" y="182.77" font-size="4.1" fill="#333" stroke="#333" stroke-width="0.08" stroke-linejoin="round">10</text>
<text x="468.78" y="180.61" font-size="2.8699999999999997" fill="#333" stroke="#333" stroke-width="0.08" stroke-linejoin="round">3</text>
<text x="473.52" y="182.77" font-size="4.1" fill="#333" stroke="#333" stroke-width="0.08" stroke-linejoin="round">10</text>
<text x="478.08" y="180.61" font-size="2.8699999999999997" fill="#333" stroke="#333" stroke-width="0.08" stroke-linejoin="round">4</text>
<text x="458.60" y="185.73" font-size="2.6" text-anchor="middle" fill="#555" stroke="#555" stroke-width="0.08" stroke-linejoin="round">Annexin</text>
<text x="431.20" y="159.93" font-size="2.6" text-anchor="middle" fill="#555" stroke="#555" stroke-width="0.08" stroke-linejoin="round" transform="rotate(-90 431.20 159.00)">7-AAD</text>
<text x="384.60" y="201.28" font-size="6.1" text-anchor="middle" font-weight="bold" fill="#111">α-MPL 1.6.1, THPO(+)</text>
<g filter="url(#bl)" clip-path="url(#cp367206)">
<ellipse cx="385" cy="233" rx="18" ry="5.5" transform="rotate(-28 385 233)" fill="#b4b8d4" fill-opacity="0.8"/>
<ellipse cx="375" cy="238" rx="6" ry="3.4" transform="rotate(-28 375 238)" fill="#98a670" fill-opacity="0.8"/>
<ellipse cx="397" cy="227" rx="8" ry="3.5" transform="rotate(-35 397 227)" fill="#a8aed4" fill-opacity="0.75"/>
<ellipse cx="399" cy="219" rx="3" ry="3.5" transform="rotate(0 399 219)" fill="#c0c4e0" fill-opacity="0.7"/>
<ellipse cx="386" cy="245.6" rx="14" ry="0.9" transform="rotate(0 386 245.6)" fill="#c0c4e0" fill-opacity="0.7"/>
</g>
<clipPath id="cp367206"><rect x="367.8" y="206.8" width="40.69999999999999" height="40.0"/></clipPath>
<path d="M384.4 229.0h0M394.2 232.7h0M392.2 228.8h0M390.9 226.4h0M379.6 239.8h0M372.1 230.5h0M380.0 243.0h0M381.6 230.1h0M381.0 238.2h0M393.5 229.6h0M404.7 225.2h0M388.8 233.9h0M406.9 225.0h0M396.7 222.6h0M387.7 235.1h0M386.8 237.0h0M395.8 231.2h0M390.2 241.0h0M400.5 223.9h0M393.5 239.3h0M386.0 236.7h0M398.2 226.1h0M376.2 239.6h0M393.7 233.3h0M396.2 227.4h0M397.8 228.5h0M390.2 230.9h0M386.7 235.5h0M375.9 236.4h0M385.5 227.5h0M380.0 228.5h0M381.9 237.8h0M393.8 228.4h0M383.1 229.1h0M397.8 222.8h0M382.9 227.6h0M397.7 230.2h0M391.5 222.9h0M379.0 231.5h0M388.8 232.6h0M395.8 230.3h0M405.7 226.5h0M373.5 238.3h0M375.1 235.1h0M387.2 232.5h0M390.3 224.2h0M375.1 239.4h0M385.4 232.3h0M386.0 230.1h0M395.9 228.9h0M385.9 230.5h0M381.4 224.8h0M377.9 238.0h0M372.7 241.6h0M387.1 226.9h0M384.8 232.6h0M393.8 231.1h0M386.1 229.6h0M386.4 232.7h0M396.1 228.5h0M378.1 232.2h0M382.8 232.0h0M376.2 238.3h0M383.1 235.3h0M392.7 227.6h0M399.7 225.8h0M395.4 218.1h0M380.6 237.3h0M398.3 235.5h0M393.6 233.9h0M397.6 230.3h0M393.0 228.5h0M391.4 225.7h0M398.5 221.8h0M394.3 236.9h0M385.7 233.4h0M400.1 225.1h0M380.1 237.6h0M395.3 230.7h0M383.0 241.9h0M405.4 222.1h0M390.0 229.1h0M401.5 221.4h0M394.2 226.5h0M382.0 238.3h0M401.8 224.0h0M382.4 238.5h0M388.0 233.2h0M405.8 226.3h0M386.6 242.0h0M389.4 234.4h0M381.2 235.7h0M400.1 220.1h0M369.5 236.1h0M399.4 223.6h0M386.8 231.4h0M384.8 229.4h0M385.7 227.5h0M387.8 233.4h0M392.5 228.5h0M378.9 237.9h0M385.7 239.7h0M395.8 227.0h0M381.9 232.7h0" stroke="#5a62a8" stroke-opacity="0.35" stroke-width="0.8" stroke-linecap="round"/>
<line x1="388.90" y1="206.80" x2="388.90" y2="246.80" stroke="#b8b0b8" stroke-width="0.55"/>
<line x1="367.80" y1="224.70" x2="408.50" y2="224.70" stroke="#dcaabc" stroke-width="0.55"/>
<rect x="367.80" y="206.80" width="40.70" height="40.00" fill="none" stroke="#a0a0a0" stroke-width="0.6"/>
<text x="369.00" y="210.15" font-size="3.2" fill="#a0508a" stroke="#a0508a" stroke-width="0.08" stroke-linejoin="round">0.0776</text>
<text x="407.30" y="210.15" font-size="3.2" text-anchor="end" fill="#a0508a" stroke="#a0508a" stroke-width="0.08" stroke-linejoin="round">2.63</text>
<text x="369.00" y="245.95" font-size="3.2" fill="#a0508a" stroke="#a0508a" stroke-width="0.08" stroke-linejoin="round">73.2</text>
<text x="407.30" y="245.95" font-size="3.2" text-anchor="end" fill="#a0508a" stroke="#a0508a" stroke-width="0.08" stroke-linejoin="round">23.1</text>
<text x="360.04" y="211.47" font-size="4.1" fill="#333" stroke="#333" stroke-width="0.08" stroke-linejoin="round">10</text>
<text x="364.60" y="209.31" font-size="2.8699999999999997" fill="#333" stroke="#333" stroke-width="0.08" stroke-linejoin="round">4</text>
<text x="360.04" y="220.87" font-size="4.1" fill="#333" stroke="#333" stroke-width="0.08" stroke-linejoin="round">10</text>
<text x="364.60" y="218.71" font-size="2.8699999999999997" fill="#333" stroke="#333" stroke-width="0.08" stroke-linejoin="round">3</text>
<text x="360.04" y="230.07" font-size="4.1" fill="#333" stroke="#333" stroke-width="0.08" stroke-linejoin="round">10</text>
<text x="364.60" y="227.91" font-size="2.8699999999999997" fill="#333" stroke="#333" stroke-width="0.08" stroke-linejoin="round">2</text>
<text x="360.04" y="239.27" font-size="4.1" fill="#333" stroke="#333" stroke-width="0.08" stroke-linejoin="round">10</text>
<text x="364.60" y="237.11" font-size="2.8699999999999997" fill="#333" stroke="#333" stroke-width="0.08" stroke-linejoin="round">1</text>
<text x="366.00" y="244.27" font-size="4.1" text-anchor="end" fill="#333" stroke="#333" stroke-width="0.08" stroke-linejoin="round">0</text>
<text x="372.10" y="252.57" font-size="4.1" text-anchor="middle" fill="#333" stroke="#333" stroke-width="0.08" stroke-linejoin="round">0</text>
<text x="373.62" y="252.57" font-size="4.1" fill="#333" stroke="#333" stroke-width="0.08" stroke-linejoin="round">10</text>
<text x="378.18" y="250.41" font-size="2.8699999999999997" fill="#333" stroke="#333" stroke-width="0.08" stroke-linejoin="round">1</text>
<text x="383.52" y="252.57" font-size="4.1" fill="#333" stroke="#333" stroke-width="0.08" stroke-linejoin="round">10</text>
<text x="388.08" y="250.41" font-size="2.8699999999999997" fill="#333" stroke="#333" stroke-width="0.08" stroke-linejoin="round">2</text>
<text x="392.22" y="252.57" font-size="4.1" fill="#333" stroke="#333" stroke-width="0.08" stroke-linejoin="round">10</text>
<text x="396.78" y="250.41" font-size="2.8699999999999997" fill="#333" stroke="#333" stroke-width="0.08" stroke-linejoin="round">3</text>
<text x="401.52" y="252.57" font-size="4.1" fill="#333" stroke="#333" stroke-width="0.08" stroke-linejoin="round">10</text>
<text x="406.08" y="250.41" font-size="2.8699999999999997" fill="#333" stroke="#333" stroke-width="0.08" stroke-linejoin="round">4</text>
<text x="386.60" y="255.53" font-size="2.6" text-anchor="middle" fill="#555" stroke="#555" stroke-width="0.08" stroke-linejoin="round">Annexin</text>
<text x="359.20" y="229.73" font-size="2.6" text-anchor="middle" fill="#555" stroke="#555" stroke-width="0.08" stroke-linejoin="round" transform="rotate(-90 359.20 228.80)">7-AAD</text>
<text x="457.60" y="201.28" font-size="6.1" text-anchor="middle" font-weight="bold" fill="#111">α-MPL 1.75.1, THPO(+)</text>
<g filter="url(#bl)" clip-path="url(#cp439206)">
<ellipse cx="457" cy="233.5" rx="18" ry="5.5" transform="rotate(-28 457 233.5)" fill="#b4b8d4" fill-opacity="0.8"/>
<ellipse cx="448" cy="238" rx="6" ry="3.4" transform="rotate(-28 448 238)" fill="#98a670" fill-opacity="0.8"/>
<ellipse cx="470" cy="226" rx="8" ry="3.5" transform="rotate(-40 470 226)" fill="#a8aed4" fill-opacity="0.75"/>
<ellipse cx="472" cy="216" rx="3.5" ry="4.5" transform="rotate(0 472 216)" fill="#c0c4e0" fill-opacity="0.7"/>
<ellipse cx="458" cy="245.6" rx="14" ry="0.9" transform="rotate(0 458 245.6)" fill="#c0c4e0" fill-opacity="0.7"/>
</g>
<clipPath id="cp439206"><rect x="439.8" y="206.8" width="39.19999999999999" height="40.0"/></clipPath>
<path d="M450.8 235.9h0M465.0 230.7h0M470.7 233.6h0M453.9 235.5h0M456.0 234.8h0M463.3 231.2h0M459.2 233.6h0M463.0 233.0h0M459.1 228.0h0M451.5 239.5h0M455.6 237.0h0M469.2 227.2h0M466.0 227.5h0M446.6 239.9h0M464.6 226.5h0M461.4 233.9h0M453.3 238.5h0M462.2 229.6h0M477.3 222.1h0M468.9 223.2h0M460.8 231.1h0M466.9 220.1h0M468.3 225.9h0M466.2 229.2h0M445.4 239.9h0M475.1 219.8h0M448.1 233.5h0M449.2 239.8h0M467.6 236.1h0M454.5 232.3h0M467.4 229.3h0M448.5 234.0h0M464.4 229.9h0M447.3 238.7h0M456.3 235.8h0M459.7 231.5h0M459.4 236.4h0M474.5 221.1h0M468.2 223.4h0M463.1 232.8h0M475.7 220.2h0M460.6 232.1h0M445.8 240.6h0M454.8 236.4h0M445.8 232.3h0M461.9 231.5h0M457.1 237.1h0M457.1 230.9h0M463.0 223.3h0M454.1 235.2h0M469.3 225.1h0M462.9 227.1h0M467.2 234.0h0M458.4 242.4h0M454.5 235.1h0M464.7 232.9h0M444.5 232.6h0M468.6 229.5h0M472.2 234.8h0M463.6 230.5h0M471.1 226.2h0M475.6 216.7h0M450.8 223.2h0M468.6 224.7h0M474.4 231.5h0M460.5 230.3h0M454.4 231.7h0M455.8 236.9h0M461.5 231.0h0M460.9 234.8h0M465.8 227.4h0M467.5 226.3h0M452.0 242.7h0M464.0 225.2h0M472.6 225.2h0M448.1 245.7h0M466.0 231.5h0M462.7 229.3h0M447.0 243.7h0M460.8 230.0h0M464.7 229.0h0M467.2 225.6h0M456.7 224.9h0M457.9 235.7h0M473.9 221.4h0M462.7 236.5h0M459.0 235.3h0M478.2 220.4h0M472.2 221.1h0M463.0 229.4h0M464.3 233.6h0M456.1 236.1h0M451.2 239.2h0M466.3 226.5h0M463.5 223.0h0M465.9 221.6h0M452.9 233.8h0M458.5 236.1h0M461.1 229.3h0M469.5 232.2h0M461.7 232.0h0M474.1 223.9h0" stroke="#5a62a8" stroke-opacity="0.35" stroke-width="0.8" stroke-linecap="round"/>
<line x1="461.60" y1="206.80" x2="461.60" y2="246.80" stroke="#b8b0b8" stroke-width="0.55"/>
<line x1="439.80" y1="224.70" x2="479.00" y2="224.70" stroke="#dcaabc" stroke-width="0.55"/>
<rect x="439.80" y="206.80" width="39.20" height="40.00" fill="none" stroke="#a0a0a0" stroke-width="0.6"/>
<text x="441.00" y="210.15" font-size="3.2" fill="#a0508a" stroke="#a0508a" stroke-width="0.08" stroke-linejoin="round">0</text>
<text x="477.80" y="210.15" font-size="3.2" text-anchor="end" fill="#a0508a" stroke="#a0508a" stroke-width="0.08" stroke-linejoin="round">2.90</text>
<text x="441.00" y="245.95" font-size="3.2" fill="#a0508a" stroke="#a0508a" stroke-width="0.08" stroke-linejoin="round">72.2</text>
<text x="477.80" y="245.95" font-size="3.2" text-anchor="end" fill="#a0508a" stroke="#a0508a" stroke-width="0.08" stroke-linejoin="round">24.9</text>
<text x="432.04" y="211.47" font-size="4.1" fill="#333" stroke="#333" stroke-width="0.08" stroke-linejoin="round">10</text>
<text x="436.60" y="209.31" font-size="2.8699999999999997" fill="#333" stroke="#333" stroke-width="0.08" stroke-linejoin="round">4</text>
<text x="432.04" y="220.87" font-size="4.1" fill="#333" stroke="#333" stroke-width="0.08" stroke-linejoin="round">10</text>
<text x="436.60" y="218.71" font-size="2.8699999999999997" fill="#333" stroke="#333" stroke-width="0.08" stroke-linejoin="round">3</text>
<text x="432.04" y="230.07" font-size="4.1" fill="#333" stroke="#333" stroke-width="0.08" stroke-linejoin="round">10</text>
<text x="436.60" y="227.91" font-size="2.8699999999999997" fill="#333" stroke="#333" stroke-width="0.08" stroke-linejoin="round">2</text>
<text x="432.04" y="239.27" font-size="4.1" fill="#333" stroke="#333" stroke-width="0.08" stroke-linejoin="round">10</text>
<text x="436.60" y="237.11" font-size="2.8699999999999997" fill="#333" stroke="#333" stroke-width="0.08" stroke-linejoin="round">1</text>
<text x="438.00" y="244.27" font-size="4.1" text-anchor="end" fill="#333" stroke="#333" stroke-width="0.08" stroke-linejoin="round">0</text>
<text x="444.10" y="252.57" font-size="4.1" text-anchor="middle" fill="#333" stroke="#333" stroke-width="0.08" stroke-linejoin="round">0</text>
<text x="445.62" y="252.57" font-size="4.1" fill="#333" stroke="#333" stroke-width="0.08" stroke-linejoin="round">10</text>
<text x="450.18" y="250.41" font-size="2.8699999999999997" fill="#333" stroke="#333" stroke-width="0.08" stroke-linejoin="round">1</text>
<text x="455.52" y="252.57" font-size="4.1" fill="#333" stroke="#333" stroke-width="0.08" stroke-linejoin="round">10</text>
<text x="460.08" y="250.41" font-size="2.8699999999999997" fill="#333" stroke="#333" stroke-width="0.08" stroke-linejoin="round">2</text>
<text x="464.22" y="252.57" font-size="4.1" fill="#333" stroke="#333" stroke-width="0.08" stroke-linejoin="round">10</text>
<text x="468.78" y="250.41" font-size="2.8699999999999997" fill="#333" stroke="#333" stroke-width="0.08" stroke-linejoin="round">3</text>
<text x="473.52" y="252.57" font-size="4.1" fill="#333" stroke="#333" stroke-width="0.08" stroke-linejoin="round">10</text>
<text x="478.08" y="250.41" font-size="2.8699999999999997" fill="#333" stroke="#333" stroke-width="0.08" stroke-linejoin="round">4</text>
<text x="458.60" y="255.53" font-size="2.6" text-anchor="middle" fill="#555" stroke="#555" stroke-width="0.08" stroke-linejoin="round">Annexin</text>
<text x="431.20" y="229.73" font-size="2.6" text-anchor="middle" fill="#555" stroke="#555" stroke-width="0.08" stroke-linejoin="round" transform="rotate(-90 431.20 228.80)">7-AAD</text>
<line x1="351.30" y1="244.20" x2="351.30" y2="266.80" stroke="#111" stroke-width="0.9"/>
<path d="M351.3,242.3 L350.2,245 L352.4,245 Z" fill="#111" stroke="none" stroke-width="1"/>
<line x1="351.30" y1="266.80" x2="397.00" y2="266.80" stroke="#111" stroke-width="0.9"/>
<path d="M399,266.8 L396.3,265.7 L396.3,267.9 Z" fill="#111" stroke="none" stroke-width="1"/>
<text x="346.40" y="256.95" font-size="4.9" text-anchor="middle" fill="#222" stroke="#222" stroke-width="0.22" stroke-linejoin="round" transform="rotate(-90 346.40 255.20)">7-AAD</text>
<text x="373.50" y="274.28" font-size="5.8" text-anchor="middle" fill="#222" stroke="#222" stroke-width="0.22" stroke-linejoin="round">Annexin V</text>
<text x="5.00" y="230.44" font-size="11" font-weight="bold" fill="#000">H</text>
<line x1="45.60" y1="234.50" x2="45.60" y2="321.50" stroke="#111" stroke-width="1"/>
<line x1="45.60" y1="321.50" x2="157.00" y2="321.50" stroke="#111" stroke-width="1"/>
<text x="41.20" y="323.79" font-size="6.4" text-anchor="end" fill="#222" stroke="#222" stroke-width="0.22" stroke-linejoin="round">1E+00</text>
<line x1="45.60" y1="321.50" x2="46.80" y2="321.50" stroke="#111" stroke-width="0.6"/>
<text x="41.20" y="311.70" font-size="6.4" text-anchor="end" fill="#222" stroke="#222" stroke-width="0.22" stroke-linejoin="round">1E+01</text>
<line x1="45.60" y1="309.41" x2="46.80" y2="309.41" stroke="#111" stroke-width="0.6"/>
<text x="41.20" y="299.61" font-size="6.4" text-anchor="end" fill="#222" stroke="#222" stroke-width="0.22" stroke-linejoin="round">1E+02</text>
<line x1="45.60" y1="297.32" x2="46.80" y2="297.32" stroke="#111" stroke-width="0.6"/>
<text x="41.20" y="287.52" font-size="6.4" text-anchor="end" fill="#222" stroke="#222" stroke-width="0.22" stroke-linejoin="round">1E+03</text>
<line x1="45.60" y1="285.23" x2="46.80" y2="285.23" stroke="#111" stroke-width="0.6"/>
<text x="41.20" y="275.43" font-size="6.4" text-anchor="end" fill="#222" stroke="#222" stroke-width="0.22" stroke-linejoin="round">1E+04</text>
<line x1="45.60" y1="273.14" x2="46.80" y2="273.14" stroke="#111" stroke-width="0.6"/>
<text x="41.20" y="263.34" font-size="6.4" text-anchor="end" fill="#222" stroke="#222" stroke-width="0.22" stroke-linejoin="round">1E+05</text>
<line x1="45.60" y1="261.05" x2="46.80" y2="261.05" stroke="#111" stroke-width="0.6"/>
<text x="41.20" y="251.25" font-size="6.4" text-anchor="end" fill="#222" stroke="#222" stroke-width="0.22" stroke-linejoin="round">1E+06</text>
<line x1="45.60" y1="248.96" x2="46.80" y2="248.96" stroke="#111" stroke-width="0.6"/>
<text x="41.20" y="239.16" font-size="6.4" text-anchor="end" fill="#222" stroke="#222" stroke-width="0.22" stroke-linejoin="round">1E+07</text>
<line x1="45.60" y1="236.87" x2="46.80" y2="236.87" stroke="#111" stroke-width="0.6"/>
<text x="45.60" y="331.09" font-size="6.4" text-anchor="middle" fill="#222" stroke="#222" stroke-width="0.22" stroke-linejoin="round">0</text>
<line x1="45.60" y1="321.50" x2="45.60" y2="322.70" stroke="#111" stroke-width="0.6"/>
<text x="57.82" y="331.09" font-size="6.4" text-anchor="middle" fill="#222" stroke="#222" stroke-width="0.22" stroke-linejoin="round">5</text>
<line x1="57.82" y1="321.50" x2="57.82" y2="322.70" stroke="#111" stroke-width="0.6"/>
<text x="70.04" y="331.09" font-size="6.4" text-anchor="middle" fill="#222" stroke="#222" stroke-width="0.22" stroke-linejoin="round">10</text>
<line x1="70.04" y1="321.50" x2="70.04" y2="322.70" stroke="#111" stroke-width="0.6"/>
<text x="82.26" y="331.09" font-size="6.4" text-anchor="middle" fill="#222" stroke="#222" stroke-width="0.22" stroke-linejoin="round">15</text>
<line x1="82.26" y1="321.50" x2="82.26" y2="322.70" stroke="#111" stroke-width="0.6"/>
<text x="94.48" y="331.09" font-size="6.4" text-anchor="middle" fill="#222" stroke="#222" stroke-width="0.22" stroke-linejoin="round">20</text>
<line x1="94.48" y1="321.50" x2="94.48" y2="322.70" stroke="#111" stroke-width="0.6"/>
<text x="106.70" y="331.09" font-size="6.4" text-anchor="middle" fill="#222" stroke="#222" stroke-width="0.22" stroke-linejoin="round">25</text>
<line x1="106.70" y1="321.50" x2="106.70" y2="322.70" stroke="#111" stroke-width="0.6"/>
<text x="118.92" y="331.09" font-size="6.4" text-anchor="middle" fill="#222" stroke="#222" stroke-width="0.22" stroke-linejoin="round">30</text>
<line x1="118.92" y1="321.50" x2="118.92" y2="322.70" stroke="#111" stroke-width="0.6"/>
<text x="131.14" y="331.09" font-size="6.4" text-anchor="middle" fill="#222" stroke="#222" stroke-width="0.22" stroke-linejoin="round">35</text>
<line x1="131.14" y1="321.50" x2="131.14" y2="322.70" stroke="#111" stroke-width="0.6"/>
<text x="143.36" y="331.09" font-size="6.4" text-anchor="middle" fill="#222" stroke="#222" stroke-width="0.22" stroke-linejoin="round">40</text>
<line x1="143.36" y1="321.50" x2="143.36" y2="322.70" stroke="#111" stroke-width="0.6"/>
<text x="155.58" y="331.09" font-size="6.4" text-anchor="middle" fill="#222" stroke="#222" stroke-width="0.22" stroke-linejoin="round">45</text>
<line x1="155.58" y1="321.50" x2="155.58" y2="322.70" stroke="#111" stroke-width="0.6"/>
<text x="100.00" y="342.79" font-size="6.4" text-anchor="middle" fill="#222" stroke="#222" stroke-width="0.22" stroke-linejoin="round">Days</text>
<text x="15.50" y="283.79" font-size="6.4" text-anchor="middle" fill="#222" stroke="#222" stroke-width="0.22" stroke-linejoin="round" transform="rotate(-90 15.50 281.50)">Fold Expansion</text>
<path d="M45.50,321.50 L52.40,314.00 L62.20,305.30 L69.90,300.80 L78.00,295.00" fill="none" stroke="#111" stroke-width="1.1"/>
<path d="M45.50,321.50 L52.40,316.50 L62.80,312.20 L69.90,310.10 L80.10,307.50 L87.40,304.30 L97.20,303.10 L104.10,301.70 L114.25,299.70 L122.30,298.70 L131.50,297.60 L139.20,297.50 L149.00,297.60" fill="none" stroke="#111" stroke-width="1.1"/>
<path d="M45.50,321.50 L52.40,314.40 L62.20,307.20 L69.90,302.00 L78.80,296.90 L92.60,290.40 L112.00,285.50 L130.00,282.00 L138.50,284.20" fill="none" stroke="#111" stroke-width="1.1"/>
<path d="M45.50,321.50 L52.40,316.60 L62.20,309.20 L69.90,304.20 L78.50,297.60 L87.40,291.00 L97.20,285.20 L104.50,279.50 L114.25,273.75 L122.00,267.20 L131.25,261.50 L138.75,255.50 L149.25,247.00" fill="none" stroke="#111" stroke-width="1.1"/>
<path d="M45.50,318.70 L48.30,321.50 L45.50,324.30 L42.70,321.50 Z" fill="#fff" stroke="#111" stroke-width="0.9"/>
<path d="M52.40,311.20 L55.20,314.00 L52.40,316.80 L49.60,314.00 Z" fill="#fff" stroke="#111" stroke-width="0.9"/>
<path d="M62.20,302.50 L65.00,305.30 L62.20,308.10 L59.40,305.30 Z" fill="#fff" stroke="#111" stroke-width="0.9"/>
<path d="M69.90,298.00 L72.70,300.80 L69.90,303.60 L67.10,300.80 Z" fill="#fff" stroke="#111" stroke-width="0.9"/>
<path d="M78.00,292.20 L80.80,295.00 L78.00,297.80 L75.20,295.00 Z" fill="#fff" stroke="#111" stroke-width="0.9"/>
<circle cx="45.50" cy="321.50" r="2.20" fill="#fff" stroke="#111" stroke-width="1.0"/>
<circle cx="52.40" cy="316.50" r="2.20" fill="#fff" stroke="#111" stroke-width="1.0"/>
<circle cx="62.80" cy="312.20" r="2.20" fill="#fff" stroke="#111" stroke-width="1.0"/>
<circle cx="69.90" cy="310.10" r="2.20" fill="#fff" stroke="#111" stroke-width="1.0"/>
<circle cx="80.10" cy="307.50" r="2.20" fill="#fff" stroke="#111" stroke-width="1.0"/>
<circle cx="87.40" cy="304.30" r="2.20" fill="#fff" stroke="#111" stroke-width="1.0"/>
<circle cx="97.20" cy="303.10" r="2.20" fill="#fff" stroke="#111" stroke-width="1.0"/>
<circle cx="104.10" cy="301.70" r="2.20" fill="#fff" stroke="#111" stroke-width="1.0"/>
<circle cx="114.25" cy="299.70" r="2.20" fill="#fff" stroke="#111" stroke-width="1.0"/>
<circle cx="122.30" cy="298.70" r="2.20" fill="#fff" stroke="#111" stroke-width="1.0"/>
<circle cx="131.50" cy="297.60" r="2.20" fill="#fff" stroke="#111" stroke-width="1.0"/>
<circle cx="139.20" cy="297.50" r="2.20" fill="#fff" stroke="#111" stroke-width="1.0"/>
<circle cx="149.00" cy="297.60" r="2.20" fill="#fff" stroke="#111" stroke-width="1.0"/>
<path d="M45.50,318.40 L48.60,321.50 L45.50,324.60 L42.40,321.50 Z" fill="#111" stroke="#111" stroke-width="0.8"/>
<path d="M52.40,311.30 L55.50,314.40 L52.40,317.50 L49.30,314.40 Z" fill="#111" stroke="#111" stroke-width="0.8"/>
<path d="M62.20,304.10 L65.30,307.20 L62.20,310.30 L59.10,307.20 Z" fill="#111" stroke="#111" stroke-width="0.8"/>
<path d="M69.90,298.90 L73.00,302.00 L69.90,305.10 L66.80,302.00 Z" fill="#111" stroke="#111" stroke-width="0.8"/>
<path d="M78.80,293.80 L81.90,296.90 L78.80,300.00 L75.70,296.90 Z" fill="#111" stroke="#111" stroke-width="0.8"/>
<path d="M92.60,287.30 L95.70,290.40 L92.60,293.50 L89.50,290.40 Z" fill="#111" stroke="#111" stroke-width="0.8"/>
<path d="M112.00,282.40 L115.10,285.50 L112.00,288.60 L108.90,285.50 Z" fill="#111" stroke="#111" stroke-width="0.8"/>
<path d="M130.00,278.90 L133.10,282.00 L130.00,285.10 L126.90,282.00 Z" fill="#111" stroke="#111" stroke-width="0.8"/>
<path d="M138.50,281.10 L141.60,284.20 L138.50,287.30 L135.40,284.20 Z" fill="#111" stroke="#111" stroke-width="0.8"/>
<circle cx="45.50" cy="321.50" r="2.45" fill="#111" stroke="none" stroke-width="1"/>
<circle cx="52.40" cy="316.60" r="2.45" fill="#111" stroke="none" stroke-width="1"/>
<circle cx="62.20" cy="309.20" r="2.45" fill="#111" stroke="none" stroke-width="1"/>
<circle cx="69.90" cy="304.20" r="2.45" fill="#111" stroke="none" stroke-width="1"/>
<circle cx="78.50" cy="297.60" r="2.45" fill="#111" stroke="none" stroke-width="1"/>
<circle cx="87.40" cy="291.00" r="2.45" fill="#111" stroke="none" stroke-width="1"/>
<circle cx="97.20" cy="285.20" r="2.45" fill="#111" stroke="none" stroke-width="1"/>
<circle cx="104.50" cy="279.50" r="2.45" fill="#111" stroke="none" stroke-width="1"/>
<circle cx="114.25" cy="273.75" r="2.45" fill="#111" stroke="none" stroke-width="1"/>
<circle cx="122.00" cy="267.20" r="2.45" fill="#111" stroke="none" stroke-width="1"/>
<circle cx="131.25" cy="261.50" r="2.45" fill="#111" stroke="none" stroke-width="1"/>
<circle cx="138.75" cy="255.50" r="2.45" fill="#111" stroke="none" stroke-width="1"/>
<circle cx="149.25" cy="247.00" r="2.45" fill="#111" stroke="none" stroke-width="1"/>
<line x1="154.50" y1="247.50" x2="167.00" y2="247.50" stroke="#666" stroke-width="0.9"/>
<line x1="154.50" y1="297.50" x2="167.00" y2="297.50" stroke="#666" stroke-width="0.9"/>
<circle cx="57.10" cy="237.30" r="2.10" fill="#111" stroke="none" stroke-width="1"/>
<circle cx="57.10" cy="245.40" r="1.80" fill="#fff" stroke="#111" stroke-width="1.0"/>
<path d="M57.10,251.10 L59.40,253.40 L57.10,255.70 L54.80,253.40 Z" fill="#111" stroke="#111" stroke-width="0.8"/>
<path d="M57.10,259.30 L59.30,261.50 L57.10,263.70 L54.90,261.50 Z" fill="#fff" stroke="#111" stroke-width="1.0"/>
<text x="65.00" y="239.76" font-size="6.6" fill="#111" stroke="#111" stroke-width="0.22" stroke-linejoin="round">AE cells +TPO</text>
<text x="65.00" y="247.81" font-size="6.6" fill="#111" stroke="#111" stroke-width="0.22" stroke-linejoin="round">AE cells -TPO</text>
<text x="65.00" y="255.86" font-size="6.6" fill="#111" stroke="#111" stroke-width="0.22" stroke-linejoin="round">CB cells +TPO</text>
<text x="65.00" y="263.91" font-size="6.6" fill="#111" stroke="#111" stroke-width="0.22" stroke-linejoin="round">CB cells -TPO</text>
<rect x="181.30" y="231.80" width="34.30" height="35.10" fill="#fff" stroke="#777" stroke-width="0.7"/>
<path d="M183.5,266.8 C185,262 186.3,246 187.3,237.5 L188.4,234.4 L189.2,236.5 C189.8,242 190.4,250 191,256 C191.8,262 193,265.5 195,266.8 Z" fill="#9ca0c0" stroke="#5c5f84" stroke-width="0.8"/>
<path d="M182.3,266.8 C184,262 185.5,246 187,237.5 L188.4,234.4 L189.5,238 C190.5,244 191.5,249 193,253 L194,255 L195,258 L196,257 L197,259.6 L198,258.2 L199,260 L200,258.4 L201,260 L202,258.2 L203,259.6 L204,258 L205,257.5 L206,256.2 L207,255.6 L208,254.2 L208.8,253.8 L209.6,256 C210.5,259 211.5,264 212.6,266.8" fill="none" stroke="#4a4a56" stroke-width="0.9"/>
<text x="214.10" y="238.17" font-size="5.5" text-anchor="end" fill="#222" stroke="#222" stroke-width="0.22" stroke-linejoin="round">31.3</text>
<text x="180.00" y="267.97" font-size="3.0" text-anchor="end" fill="#444" stroke="#444" stroke-width="0.08" stroke-linejoin="round">0</text>
<text x="180.00" y="259.95" font-size="3.0" text-anchor="end" fill="#444" stroke="#444" stroke-width="0.08" stroke-linejoin="round">30</text>
<text x="180.00" y="251.92" font-size="3.0" text-anchor="end" fill="#444" stroke="#444" stroke-width="0.08" stroke-linejoin="round">60</text>
<text x="180.00" y="243.90" font-size="3.0" text-anchor="end" fill="#444" stroke="#444" stroke-width="0.08" stroke-linejoin="round">90</text>
<text x="180.00" y="235.87" font-size="3.0" text-anchor="end" fill="#444" stroke="#444" stroke-width="0.08" stroke-linejoin="round">120</text>
<text x="184.47" y="272.02" font-size="3.4" text-anchor="middle" fill="#444" stroke="#444" stroke-width="0.08" stroke-linejoin="round">0</text>
<text x="185.72" y="272.02" font-size="3.4" fill="#333" stroke="#333" stroke-width="0.08" stroke-linejoin="round">10</text>
<text x="189.50" y="270.22" font-size="2.38" fill="#333" stroke="#333" stroke-width="0.08" stroke-linejoin="round">1</text>
<text x="194.87" y="272.02" font-size="3.4" fill="#333" stroke="#333" stroke-width="0.08" stroke-linejoin="round">10</text>
<text x="198.65" y="270.22" font-size="2.38" fill="#333" stroke="#333" stroke-width="0.08" stroke-linejoin="round">2</text>
<text x="203.44" y="272.02" font-size="3.4" fill="#333" stroke="#333" stroke-width="0.08" stroke-linejoin="round">10</text>
<text x="207.23" y="270.22" font-size="2.38" fill="#333" stroke="#333" stroke-width="0.08" stroke-linejoin="round">3</text>
<text x="210.99" y="272.02" font-size="3.4" fill="#333" stroke="#333" stroke-width="0.08" stroke-linejoin="round">10</text>
<text x="214.77" y="270.22" font-size="2.38" fill="#333" stroke="#333" stroke-width="0.08" stroke-linejoin="round">4</text>
<text x="197.42" y="274.46" font-size="2.4" text-anchor="middle" fill="#555" stroke="#555" stroke-width="0.08" stroke-linejoin="round">CD34</text>
<text x="173.80" y="250.28" font-size="2.6" text-anchor="middle" fill="#555" stroke="#555" stroke-width="0.08" stroke-linejoin="round" transform="rotate(-90 173.80 249.35)">Count</text>
<rect x="181.30" y="282.70" width="34.30" height="34.70" fill="#fff" stroke="#777" stroke-width="0.7"/>
<path d="M183.2,317.2 C184.6,314 185.8,300 187.2,291 L188,286.5 L188.6,285.2 L189.2,288 C189.8,292 190.6,298 191.8,304 C192.8,308 194.3,312 196.5,313.6 C199.5,314.6 203,314.1 206,314.2 C208,314.3 210,315.5 212,316.6 L214.2,317.2 Z" fill="#9ca2c8" stroke="#3a3e58" stroke-width="0.9"/>
<text x="214.10" y="289.07" font-size="5.5" text-anchor="end" fill="#222" stroke="#222" stroke-width="0.22" stroke-linejoin="round">6.6</text>
<text x="180.00" y="318.47" font-size="3.0" text-anchor="end" fill="#444" stroke="#444" stroke-width="0.08" stroke-linejoin="round">0</text>
<text x="180.00" y="312.13" font-size="3.0" text-anchor="end" fill="#444" stroke="#444" stroke-width="0.08" stroke-linejoin="round">50</text>
<text x="180.00" y="305.79" font-size="3.0" text-anchor="end" fill="#444" stroke="#444" stroke-width="0.08" stroke-linejoin="round">100</text>
<text x="180.00" y="299.45" font-size="3.0" text-anchor="end" fill="#444" stroke="#444" stroke-width="0.08" stroke-linejoin="round">150</text>
<text x="180.00" y="293.11" font-size="3.0" text-anchor="end" fill="#444" stroke="#444" stroke-width="0.08" stroke-linejoin="round">200</text>
<text x="180.00" y="286.77" font-size="3.0" text-anchor="end" fill="#444" stroke="#444" stroke-width="0.08" stroke-linejoin="round">250</text>
<text x="184.47" y="322.52" font-size="3.4" text-anchor="middle" fill="#444" stroke="#444" stroke-width="0.08" stroke-linejoin="round">0</text>
<text x="185.72" y="322.52" font-size="3.4" fill="#333" stroke="#333" stroke-width="0.08" stroke-linejoin="round">10</text>
<text x="189.50" y="320.72" font-size="2.38" fill="#333" stroke="#333" stroke-width="0.08" stroke-linejoin="round">1</text>
<text x="194.87" y="322.52" font-size="3.4" fill="#333" stroke="#333" stroke-width="0.08" stroke-linejoin="round">10</text>
<text x="198.65" y="320.72" font-size="2.38" fill="#333" stroke="#333" stroke-width="0.08" stroke-linejoin="round">2</text>
<text x="203.44" y="322.52" font-size="3.4" fill="#333" stroke="#333" stroke-width="0.08" stroke-linejoin="round">10</text>
<text x="207.23" y="320.72" font-size="2.38" fill="#333" stroke="#333" stroke-width="0.08" stroke-linejoin="round">3</text>
<text x="210.99" y="322.52" font-size="3.4" fill="#333" stroke="#333" stroke-width="0.08" stroke-linejoin="round">10</text>
<text x="214.77" y="320.72" font-size="2.38" fill="#333" stroke="#333" stroke-width="0.08" stroke-linejoin="round">4</text>
<text x="197.42" y="324.96" font-size="2.4" text-anchor="middle" fill="#555" stroke="#555" stroke-width="0.08" stroke-linejoin="round">CD34</text>
<text x="173.80" y="300.98" font-size="2.6" text-anchor="middle" fill="#555" stroke="#555" stroke-width="0.08" stroke-linejoin="round" transform="rotate(-90 173.80 300.05)">Count</text>
<line x1="176.30" y1="330.30" x2="212.50" y2="330.30" stroke="#444" stroke-width="0.8"/>
<path d="M214.5,330.3 L211.8,329.3 L211.8,331.3 Z" fill="#444" stroke="none" stroke-width="1"/>
<text x="194.20" y="338.08" font-size="5.8" text-anchor="middle" fill="#222" stroke="#222" stroke-width="0.22" stroke-linejoin="round">CD34</text>
<clipPath id="mc1"><rect x="223.8" y="227.0" width="70.6" height="52.8"/></clipPath>
<g clip-path="url(#mc1)"><rect x="223.8" y="227.0" width="70.6" height="52.8" fill="#f2f2f3"/><g filter="url(#bm)">
<ellipse cx="252.4" cy="230.0" rx="3.8" ry="3.4" fill="#7674a8" fill-opacity="1"/>
<ellipse cx="225.3" cy="243.1" rx="2.4" ry="3.4" fill="#8684b6" fill-opacity="1"/>
<ellipse cx="262.3" cy="237.3" rx="4.2" ry="4.6" fill="#d6d6e6" fill-opacity="1"/>
<ellipse cx="262.3" cy="237.5" rx="2.2" ry="2.6" fill="#7c7cb0" fill-opacity="1"/>
<ellipse cx="280" cy="229.5" rx="5.5" ry="3" fill="#68669c" fill-opacity="1"/>
<ellipse cx="287.5" cy="229.5" rx="5" ry="3.4" fill="#68669c" fill-opacity="1"/>
<ellipse cx="292.5" cy="233" rx="3" ry="3.5" fill="#7674a8" fill-opacity="1"/>
<ellipse cx="287" cy="237.3" rx="3.2" ry="3" fill="#8684b6" fill-opacity="1"/>
<ellipse cx="289.4" cy="243" rx="3.6" ry="3.4" fill="#68669c" fill-opacity="1"/>
<ellipse cx="287.8" cy="248" rx="3.4" ry="3" fill="#8684b6" fill-opacity="1"/>
<ellipse cx="291" cy="251.3" rx="3" ry="3.2" fill="#7674a8" fill-opacity="1"/>
<ellipse cx="285.3" cy="252" rx="3" ry="2.6" fill="#8684b6" fill-opacity="1"/>
<ellipse cx="229.4" cy="252.1" rx="3.4" ry="3.2" fill="#7674a8" fill-opacity="1"/>
<ellipse cx="235.2" cy="251.3" rx="3.4" ry="3.2" fill="#8684b6" fill-opacity="1"/>
<ellipse cx="239.3" cy="249.7" rx="3.2" ry="3" fill="#7674a8" fill-opacity="1"/>
<ellipse cx="243.4" cy="248.2" rx="3.4" ry="3" fill="#68669c" fill-opacity="1"/>
<ellipse cx="249.1" cy="248.2" rx="3.6" ry="3" fill="#8684b6" fill-opacity="1"/>
<ellipse cx="253.2" cy="252.1" rx="3.6" ry="3.4" fill="#68669c" fill-opacity="1"/>
<ellipse cx="254.9" cy="255.6" rx="3.4" ry="3.2" fill="#7674a8" fill-opacity="1"/>
<ellipse cx="259.8" cy="257.9" rx="3.6" ry="3.4" fill="#68669c" fill-opacity="1"/>
<ellipse cx="263.1" cy="260.6" rx="3.2" ry="3" fill="#8684b6" fill-opacity="1"/>
<ellipse cx="226.9" cy="257.9" rx="3.2" ry="3.4" fill="#68669c" fill-opacity="1"/>
<ellipse cx="231.9" cy="260.4" rx="3.6" ry="3.2" fill="#7674a8" fill-opacity="1"/>
<ellipse cx="228.6" cy="263.9" rx="3" ry="2.8" fill="#8684b6" fill-opacity="1"/>
<ellipse cx="236.8" cy="256.3" rx="3.6" ry="3.4" fill="#68669c" fill-opacity="1"/>
<ellipse cx="268.9" cy="255.4" rx="2.6" ry="2.6" fill="#36345a" fill-opacity="1"/>
<ellipse cx="270.2" cy="254.2" rx="0.9" ry="0.9" fill="#f4f4f6" fill-opacity="1"/>
<polygon points="262,281 295,281 295,254 288,256 277,266 268,273" fill="#8886b8" fill-opacity="1"/>
<ellipse cx="282" cy="262.8" rx="6.2" ry="6" fill="#aeb0d4" fill-opacity="1"/>
<circle cx="282" cy="262.8" r="5.0" fill="none" stroke="#6a6caa" stroke-width="1.0"/>
<ellipse cx="282.3" cy="262.6" rx="2.8" ry="2.8" fill="#5e609e" fill-opacity="1"/>
<ellipse cx="270" cy="275.5" rx="3.5" ry="3" fill="#68669c" fill-opacity="1"/>
<ellipse cx="277" cy="271" rx="3" ry="3" fill="#7674a8" fill-opacity="1"/>
<ellipse cx="289" cy="266" rx="3" ry="3" fill="#68669c" fill-opacity="1"/>
<ellipse cx="292" cy="259" rx="2.5" ry="3" fill="#8684b6" fill-opacity="1"/>
<ellipse cx="285" cy="276" rx="3" ry="2.5" fill="#8684b6" fill-opacity="1"/>
<ellipse cx="265.6" cy="277.6" rx="1.6" ry="1.4" fill="#36345a" fill-opacity="1"/>
<ellipse cx="269.7" cy="277.8" rx="1.6" ry="1.4" fill="#36345a" fill-opacity="1"/>
<ellipse cx="289.4" cy="272.7" rx="1.6" ry="1.6" fill="#36345a" fill-opacity="1"/>
<ellipse cx="292.7" cy="266" rx="1.6" ry="1.6" fill="#36345a" fill-opacity="1"/>
<ellipse cx="279.5" cy="276.5" rx="1.4" ry="1.4" fill="#36345a" fill-opacity="1"/>
<ellipse cx="224.5" cy="271" rx="2" ry="2" fill="#c4c6e0" fill-opacity="1"/>
<ellipse cx="263" cy="227.6" rx="5" ry="0.9" fill="#8a8aa0" fill-opacity="1"/>
</g></g>
<line x1="225.50" y1="230.90" x2="233.70" y2="230.90" stroke="#111" stroke-width="1.2"/>
<text x="225.80" y="238.84" font-size="7.1" fill="#111" stroke="#111" stroke-width="0.40" stroke-linejoin="round">THPO+</text>
<clipPath id="mc2"><rect x="223.8" y="284.6" width="70.6" height="51.9"/></clipPath>
<g clip-path="url(#mc2)"><rect x="223.8" y="284.6" width="70.6" height="51.9" fill="#c6c4dc"/><g filter="url(#bm)">
<polygon points="224,284 256,284 256,290 252,298 224,298" fill="#dedee8" fill-opacity="1"/>
<polygon points="256,284 296,284 296,289 256,289" fill="#e4e4ee" fill-opacity="0.8"/>
<polygon points="268,303 286,301 296,300 296,326 284,327 276,322 270,314" fill="#ececf0" fill-opacity="1"/>
<ellipse cx="263" cy="291" rx="6" ry="4.5" fill="#a4a6cf" fill-opacity="1"/>
<ellipse cx="272.7" cy="288" rx="4" ry="2.8" fill="#8684b6" fill-opacity="1"/>
<ellipse cx="274.3" cy="287" rx="1.6" ry="1.4" fill="#36345a" fill-opacity="1"/>
<ellipse cx="284" cy="293" rx="5" ry="4" fill="#a2a4ce" fill-opacity="1"/>
<ellipse cx="291" cy="296" rx="3.5" ry="3.5" fill="#8684b6" fill-opacity="1"/>
<ellipse cx="287" cy="299" rx="1.6" ry="1.4" fill="#36345a" fill-opacity="1"/>
<ellipse cx="279" cy="297" rx="2.5" ry="1.8" fill="#e8e8f0" fill-opacity="1"/>
<ellipse cx="293" cy="290" rx="2" ry="2" fill="#e8e8f0" fill-opacity="1"/>
<ellipse cx="252.9" cy="294.1" rx="1.6" ry="1.6" fill="#36345a" fill-opacity="1"/>
<ellipse cx="250.8" cy="296.8" rx="1.3" ry="1.3" fill="#36345a" fill-opacity="1"/>
<ellipse cx="262.4" cy="295.7" rx="1.5" ry="1.3" fill="#36345a" fill-opacity="1"/>
<ellipse cx="228.3" cy="303.6" rx="3.6" ry="3.6" fill="#8486be" fill-opacity="1"/>
<circle cx="228.3" cy="303.6" r="2.6" fill="none" stroke="#ececf4" stroke-width="1.1"/>
<ellipse cx="226.8" cy="314.7" rx="3" ry="3" fill="#e6e6f0" fill-opacity="1"/>
<ellipse cx="231.5" cy="310" rx="2.6" ry="2.6" fill="#7072b0" fill-opacity="1"/>
<ellipse cx="229" cy="319" rx="2.4" ry="2.4" fill="#ececf4" fill-opacity="1"/>
<ellipse cx="233" cy="327" rx="2.6" ry="2.4" fill="#e8e8f2" fill-opacity="1"/>
<ellipse cx="226" cy="326" rx="2" ry="2.6" fill="#68669c" fill-opacity="1"/>
<ellipse cx="236" cy="304" rx="2" ry="2" fill="#ececf4" fill-opacity="1"/>
<ellipse cx="238" cy="320" rx="2" ry="2" fill="#e4e4ee" fill-opacity="1"/>
<ellipse cx="227" cy="333" rx="2" ry="1.6" fill="#ececf4" fill-opacity="1"/>
<ellipse cx="236" cy="313" rx="1.4" ry="1.4" fill="#36345a" fill-opacity="1"/>
<ellipse cx="225" cy="308" rx="1.4" ry="1.8" fill="#36345a" fill-opacity="1"/>
<ellipse cx="233" cy="331" rx="1.4" ry="1.4" fill="#36345a" fill-opacity="1"/>
<ellipse cx="252" cy="312" rx="9" ry="8" fill="#a4a4cc" fill-opacity="1"/>
<ellipse cx="258" cy="324" rx="8" ry="7" fill="#a8a8ce" fill-opacity="1"/>
<ellipse cx="245" cy="326" rx="6" ry="5" fill="#b0b0d4" fill-opacity="1"/>
<ellipse cx="249.7" cy="299.6" rx="1.6" ry="1.5" fill="#36345a" fill-opacity="1"/>
<ellipse cx="254.5" cy="304.4" rx="1.6" ry="1.5" fill="#36345a" fill-opacity="1"/>
<ellipse cx="259.2" cy="308.4" rx="1.6" ry="1.5" fill="#36345a" fill-opacity="1"/>
<ellipse cx="260" cy="313.9" rx="1.6" ry="1.5" fill="#36345a" fill-opacity="1"/>
<ellipse cx="264" cy="316.3" rx="1.6" ry="1.5" fill="#36345a" fill-opacity="1"/>
<ellipse cx="255.3" cy="318.7" rx="1.6" ry="1.5" fill="#36345a" fill-opacity="1"/>
<ellipse cx="248.9" cy="325.8" rx="1.6" ry="1.5" fill="#36345a" fill-opacity="1"/>
<ellipse cx="261.6" cy="325.8" rx="1.6" ry="1.5" fill="#36345a" fill-opacity="1"/>
<ellipse cx="255.3" cy="330.5" rx="1.6" ry="1.5" fill="#36345a" fill-opacity="1"/>
<ellipse cx="242.6" cy="330.5" rx="1.6" ry="1.5" fill="#36345a" fill-opacity="1"/>
<ellipse cx="268.8" cy="308.4" rx="1.5" ry="1.4" fill="#36345a" fill-opacity="1"/>
<ellipse cx="246" cy="306" rx="1.6" ry="1.6" fill="#f0f0f6" fill-opacity="1"/>
<ellipse cx="252" cy="316" rx="1.4" ry="1.4" fill="#f0f0f6" fill-opacity="1"/>
<ellipse cx="262" cy="304" rx="1.4" ry="1.4" fill="#f0f0f6" fill-opacity="1"/>
<ellipse cx="243" cy="316" rx="1.4" ry="1.4" fill="#f0f0f6" fill-opacity="1"/>
<ellipse cx="258" cy="333" rx="1.4" ry="1.4" fill="#f0f0f6" fill-opacity="1"/>
<ellipse cx="272.5" cy="327" rx="3.5" ry="5" fill="#8c8ec2" fill-opacity="1"/>
<ellipse cx="267" cy="331" rx="2" ry="2" fill="#68669c" fill-opacity="1"/>
<ellipse cx="288.6" cy="333.7" rx="2.2" ry="2" fill="#36345a" fill-opacity="1"/>
<circle cx="284.6" cy="329" r="1.7" fill="none" stroke="#555" stroke-width="0.8"/>
<ellipse cx="280" cy="305" rx="3" ry="2" fill="#c4c6e2" fill-opacity="1"/>
<ellipse cx="291" cy="312" rx="2" ry="3" fill="#d0d2e8" fill-opacity="1"/>
</g></g>
<line x1="225.50" y1="288.50" x2="233.70" y2="288.50" stroke="#111" stroke-width="1.2"/>
<text x="225.80" y="296.44" font-size="7.1" fill="#111" stroke="#111" stroke-width="0.40" stroke-linejoin="round">THPO-</text>
</svg></body></html>
